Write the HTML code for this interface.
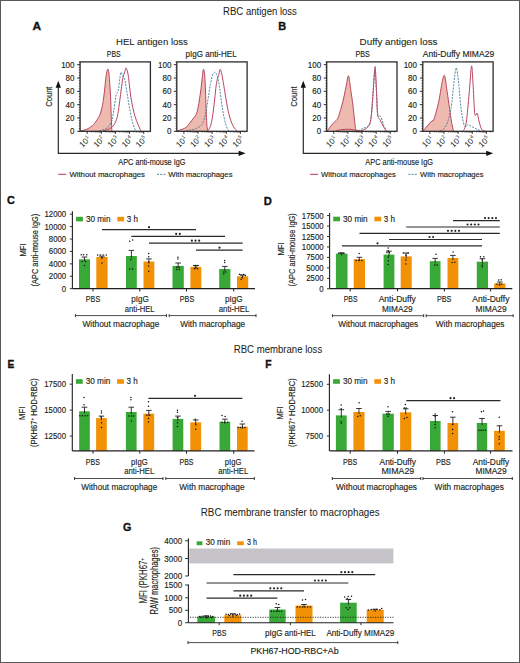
<!DOCTYPE html><html><head><meta charset="utf-8"><style>html,body{margin:0;padding:0;background:#fff;}svg{display:block;font-family:"Liberation Sans",sans-serif;}</style></head><body><svg width="520" height="663" viewBox="0 0 520 663" font-family="Liberation Sans, sans-serif" fill="#231f20">
<style>text{stroke:#231f20;stroke-width:0.15px;}</style>
<rect x="0" y="0" width="520" height="663" fill="#ffffff"/>
<text x="223.1" y="15" font-size="10" textLength="73.8" lengthAdjust="spacingAndGlyphs" style="stroke-width:0.05px">RBC antigen loss</text>
<text x="233.8" y="352.7" font-size="10" textLength="88.4" lengthAdjust="spacingAndGlyphs" style="stroke-width:0.05px">RBC membrane loss</text>
<text x="200.8" y="515.8" font-size="10" textLength="178.8" lengthAdjust="spacingAndGlyphs" style="stroke-width:0.05px">RBC membrane transfer to macrophages</text>
<text x="32.4" y="30.1" font-size="11.8" font-weight="bold" textLength="8.6" lengthAdjust="spacingAndGlyphs" fill="#111" style="stroke:#111;stroke-width:0.35px">A</text>
<text x="278.2" y="29.6" font-size="11.8" font-weight="bold" textLength="7.9" lengthAdjust="spacingAndGlyphs" fill="#111" style="stroke:#111;stroke-width:0.35px">B</text>
<text x="7" y="203.9" font-size="11.8" font-weight="bold" textLength="7.9" lengthAdjust="spacingAndGlyphs" fill="#111" style="stroke:#111;stroke-width:0.35px">C</text>
<text x="263.8" y="205.4" font-size="11.8" font-weight="bold" textLength="8.1" lengthAdjust="spacingAndGlyphs" fill="#111" style="stroke:#111;stroke-width:0.35px">D</text>
<text x="7.6" y="367.9" font-size="11.8" font-weight="bold" textLength="6.8" lengthAdjust="spacingAndGlyphs" fill="#111" style="stroke:#111;stroke-width:0.35px">E</text>
<text x="265.3" y="367.9" font-size="11.8" font-weight="bold" textLength="6.3" lengthAdjust="spacingAndGlyphs" fill="#111" style="stroke:#111;stroke-width:0.35px">F</text>
<text x="122.9" y="530.9" font-size="11.8" font-weight="bold" textLength="8.4" lengthAdjust="spacingAndGlyphs" fill="#111" style="stroke:#111;stroke-width:0.35px">G</text>
<text x="116" y="44.5" font-size="9.4" textLength="71.9" lengthAdjust="spacingAndGlyphs" style="stroke-width:0.08px">HEL antigen loss</text>
<text x="359.6" y="44.5" font-size="9.4" textLength="77.9" lengthAdjust="spacingAndGlyphs" style="stroke-width:0.08px">Duffy antigen loss</text>
<text x="106.8" y="56.7" font-size="8.8" textLength="13.8" lengthAdjust="spacingAndGlyphs">PBS</text>
<text x="185.5" y="56.7" font-size="8.8" textLength="51.2" lengthAdjust="spacingAndGlyphs">pIgG anti-HEL</text>
<text x="355.6" y="57" font-size="8.8" textLength="14.3" lengthAdjust="spacingAndGlyphs">PBS</text>
<text x="422.7" y="56.9" font-size="8.8" textLength="71.5" lengthAdjust="spacingAndGlyphs">Anti-Duffy MIMA29</text>
<text x="74.5" y="134.3" font-size="8.4" text-anchor="end" textLength="4.45" lengthAdjust="spacingAndGlyphs">0</text>
<line x1="77.1" y1="131.3" x2="80.1" y2="131.3" stroke="#231f20" stroke-width="0.9"/>
<text x="74.5" y="120.98" font-size="8.4" text-anchor="end" textLength="8.9" lengthAdjust="spacingAndGlyphs">20</text>
<line x1="77.1" y1="117.98" x2="80.1" y2="117.98" stroke="#231f20" stroke-width="0.9"/>
<text x="74.5" y="107.66" font-size="8.4" text-anchor="end" textLength="8.9" lengthAdjust="spacingAndGlyphs">40</text>
<line x1="77.1" y1="104.66" x2="80.1" y2="104.66" stroke="#231f20" stroke-width="0.9"/>
<text x="74.5" y="94.34" font-size="8.4" text-anchor="end" textLength="8.9" lengthAdjust="spacingAndGlyphs">60</text>
<line x1="77.1" y1="91.34" x2="80.1" y2="91.34" stroke="#231f20" stroke-width="0.9"/>
<text x="74.5" y="81.02" font-size="8.4" text-anchor="end" textLength="8.9" lengthAdjust="spacingAndGlyphs">80</text>
<line x1="77.1" y1="78.02" x2="80.1" y2="78.02" stroke="#231f20" stroke-width="0.9"/>
<text x="74.5" y="67.7" font-size="8.4" text-anchor="end" textLength="13.35" lengthAdjust="spacingAndGlyphs">100</text>
<line x1="77.1" y1="64.7" x2="80.1" y2="64.7" stroke="#231f20" stroke-width="0.9"/>
<line x1="78.8" y1="131.3" x2="80.1" y2="131.3" stroke="#231f20" stroke-width="0.7"/>
<line x1="78.8" y1="128.64" x2="80.1" y2="128.64" stroke="#231f20" stroke-width="0.7"/>
<line x1="78.8" y1="125.97" x2="80.1" y2="125.97" stroke="#231f20" stroke-width="0.7"/>
<line x1="78.8" y1="123.31" x2="80.1" y2="123.31" stroke="#231f20" stroke-width="0.7"/>
<line x1="78.8" y1="120.64" x2="80.1" y2="120.64" stroke="#231f20" stroke-width="0.7"/>
<line x1="78.8" y1="117.98" x2="80.1" y2="117.98" stroke="#231f20" stroke-width="0.7"/>
<line x1="78.8" y1="115.32" x2="80.1" y2="115.32" stroke="#231f20" stroke-width="0.7"/>
<line x1="78.8" y1="112.65" x2="80.1" y2="112.65" stroke="#231f20" stroke-width="0.7"/>
<line x1="78.8" y1="109.99" x2="80.1" y2="109.99" stroke="#231f20" stroke-width="0.7"/>
<line x1="78.8" y1="107.32" x2="80.1" y2="107.32" stroke="#231f20" stroke-width="0.7"/>
<line x1="78.8" y1="104.66" x2="80.1" y2="104.66" stroke="#231f20" stroke-width="0.7"/>
<line x1="78.8" y1="102" x2="80.1" y2="102" stroke="#231f20" stroke-width="0.7"/>
<line x1="78.8" y1="99.33" x2="80.1" y2="99.33" stroke="#231f20" stroke-width="0.7"/>
<line x1="78.8" y1="96.67" x2="80.1" y2="96.67" stroke="#231f20" stroke-width="0.7"/>
<line x1="78.8" y1="94" x2="80.1" y2="94" stroke="#231f20" stroke-width="0.7"/>
<line x1="78.8" y1="91.34" x2="80.1" y2="91.34" stroke="#231f20" stroke-width="0.7"/>
<line x1="78.8" y1="88.68" x2="80.1" y2="88.68" stroke="#231f20" stroke-width="0.7"/>
<line x1="78.8" y1="86.01" x2="80.1" y2="86.01" stroke="#231f20" stroke-width="0.7"/>
<line x1="78.8" y1="83.35" x2="80.1" y2="83.35" stroke="#231f20" stroke-width="0.7"/>
<line x1="78.8" y1="80.68" x2="80.1" y2="80.68" stroke="#231f20" stroke-width="0.7"/>
<line x1="78.8" y1="78.02" x2="80.1" y2="78.02" stroke="#231f20" stroke-width="0.7"/>
<line x1="78.8" y1="75.36" x2="80.1" y2="75.36" stroke="#231f20" stroke-width="0.7"/>
<line x1="78.8" y1="72.69" x2="80.1" y2="72.69" stroke="#231f20" stroke-width="0.7"/>
<line x1="78.8" y1="70.03" x2="80.1" y2="70.03" stroke="#231f20" stroke-width="0.7"/>
<line x1="78.8" y1="67.36" x2="80.1" y2="67.36" stroke="#231f20" stroke-width="0.7"/>
<line x1="78.8" y1="64.7" x2="80.1" y2="64.7" stroke="#231f20" stroke-width="0.7"/>
<line x1="78.8" y1="62.04" x2="80.1" y2="62.04" stroke="#231f20" stroke-width="0.7"/>
<line x1="87.2" y1="131.3" x2="87.2" y2="133.9" stroke="#231f20" stroke-width="0.9"/>
<line x1="91.45" y1="131.3" x2="91.45" y2="132.6" stroke="#231f20" stroke-width="0.6"/>
<line x1="93.94" y1="131.3" x2="93.94" y2="132.6" stroke="#231f20" stroke-width="0.6"/>
<line x1="95.71" y1="131.3" x2="95.71" y2="132.6" stroke="#231f20" stroke-width="0.6"/>
<line x1="97.08" y1="131.3" x2="97.08" y2="132.6" stroke="#231f20" stroke-width="0.6"/>
<line x1="98.2" y1="131.3" x2="98.2" y2="132.6" stroke="#231f20" stroke-width="0.6"/>
<line x1="99.14" y1="131.3" x2="99.14" y2="132.6" stroke="#231f20" stroke-width="0.6"/>
<line x1="99.96" y1="131.3" x2="99.96" y2="132.6" stroke="#231f20" stroke-width="0.6"/>
<line x1="100.68" y1="131.3" x2="100.68" y2="132.6" stroke="#231f20" stroke-width="0.6"/>
<line x1="101.33" y1="131.3" x2="101.33" y2="133.9" stroke="#231f20" stroke-width="0.9"/>
<line x1="105.58" y1="131.3" x2="105.58" y2="132.6" stroke="#231f20" stroke-width="0.6"/>
<line x1="108.07" y1="131.3" x2="108.07" y2="132.6" stroke="#231f20" stroke-width="0.6"/>
<line x1="109.84" y1="131.3" x2="109.84" y2="132.6" stroke="#231f20" stroke-width="0.6"/>
<line x1="111.21" y1="131.3" x2="111.21" y2="132.6" stroke="#231f20" stroke-width="0.6"/>
<line x1="112.33" y1="131.3" x2="112.33" y2="132.6" stroke="#231f20" stroke-width="0.6"/>
<line x1="113.27" y1="131.3" x2="113.27" y2="132.6" stroke="#231f20" stroke-width="0.6"/>
<line x1="114.09" y1="131.3" x2="114.09" y2="132.6" stroke="#231f20" stroke-width="0.6"/>
<line x1="114.81" y1="131.3" x2="114.81" y2="132.6" stroke="#231f20" stroke-width="0.6"/>
<line x1="115.46" y1="131.3" x2="115.46" y2="133.9" stroke="#231f20" stroke-width="0.9"/>
<line x1="119.71" y1="131.3" x2="119.71" y2="132.6" stroke="#231f20" stroke-width="0.6"/>
<line x1="122.2" y1="131.3" x2="122.2" y2="132.6" stroke="#231f20" stroke-width="0.6"/>
<line x1="123.97" y1="131.3" x2="123.97" y2="132.6" stroke="#231f20" stroke-width="0.6"/>
<line x1="125.34" y1="131.3" x2="125.34" y2="132.6" stroke="#231f20" stroke-width="0.6"/>
<line x1="126.46" y1="131.3" x2="126.46" y2="132.6" stroke="#231f20" stroke-width="0.6"/>
<line x1="127.4" y1="131.3" x2="127.4" y2="132.6" stroke="#231f20" stroke-width="0.6"/>
<line x1="128.22" y1="131.3" x2="128.22" y2="132.6" stroke="#231f20" stroke-width="0.6"/>
<line x1="128.94" y1="131.3" x2="128.94" y2="132.6" stroke="#231f20" stroke-width="0.6"/>
<line x1="129.59" y1="131.3" x2="129.59" y2="133.9" stroke="#231f20" stroke-width="0.9"/>
<line x1="133.84" y1="131.3" x2="133.84" y2="132.6" stroke="#231f20" stroke-width="0.6"/>
<line x1="136.33" y1="131.3" x2="136.33" y2="132.6" stroke="#231f20" stroke-width="0.6"/>
<line x1="138.1" y1="131.3" x2="138.1" y2="132.6" stroke="#231f20" stroke-width="0.6"/>
<line x1="139.47" y1="131.3" x2="139.47" y2="132.6" stroke="#231f20" stroke-width="0.6"/>
<line x1="140.59" y1="131.3" x2="140.59" y2="132.6" stroke="#231f20" stroke-width="0.6"/>
<line x1="141.53" y1="131.3" x2="141.53" y2="132.6" stroke="#231f20" stroke-width="0.6"/>
<line x1="142.35" y1="131.3" x2="142.35" y2="132.6" stroke="#231f20" stroke-width="0.6"/>
<line x1="143.07" y1="131.3" x2="143.07" y2="132.6" stroke="#231f20" stroke-width="0.6"/>
<line x1="143.72" y1="131.3" x2="143.72" y2="133.9" stroke="#231f20" stroke-width="0.9"/>
<line x1="147.97" y1="131.3" x2="147.97" y2="132.6" stroke="#231f20" stroke-width="0.6"/>
<g transform="translate(91.1 139.4) rotate(-45)"><text x="0" y="0" font-size="8.1" text-anchor="end" fill="#231f20" style="stroke-width:0px">10<tspan font-size="5" dx="0.3" dy="-3.4">1</tspan></text></g>
<g transform="translate(105.23 139.4) rotate(-45)"><text x="0" y="0" font-size="8.1" text-anchor="end" fill="#231f20" style="stroke-width:0px">10<tspan font-size="5" dx="0.3" dy="-3.4">2</tspan></text></g>
<g transform="translate(119.36 139.4) rotate(-45)"><text x="0" y="0" font-size="8.1" text-anchor="end" fill="#231f20" style="stroke-width:0px">10<tspan font-size="5" dx="0.3" dy="-3.4">3</tspan></text></g>
<g transform="translate(133.49 139.4) rotate(-45)"><text x="0" y="0" font-size="8.1" text-anchor="end" fill="#231f20" style="stroke-width:0px">10<tspan font-size="5" dx="0.3" dy="-3.4">4</tspan></text></g>
<g transform="translate(147.62 139.4) rotate(-45)"><text x="0" y="0" font-size="8.1" text-anchor="end" fill="#231f20" style="stroke-width:0px">10<tspan font-size="5" dx="0.3" dy="-3.4">5</tspan></text></g>
<path d="M80.6 130.8 C81.62 130.55 84.73 130.15 86.7 129.3 C88.67 128.45 90.97 126.87 92.4 125.7 C93.83 124.53 94.1 123.98 95.3 122.3 C96.5 120.62 98.52 117.93 99.6 115.6 C100.68 113.27 101.18 110.83 101.8 108.3 C102.42 105.77 102.82 103.63 103.3 100.4 C103.78 97.17 104.23 92.98 104.7 88.9 C105.17 84.82 105.62 79.15 106.1 75.9 C106.58 72.65 107.17 70.13 107.6 69.4 C108.03 68.67 108.35 69.22 108.7 71.5 C109.05 73.78 109.38 78.77 109.7 83.1 C110.02 87.43 110.35 92.22 110.6 97.5 C110.85 102.78 111.03 109.98 111.2 114.8 C111.37 119.62 111.48 123.73 111.6 126.4 C111.72 129.07 111.85 130.07 111.9 130.8 L111.9 131.3 Z" fill="#eeb9ae" stroke="none"/>
<path d="M80.6 130.8 C81.62 130.55 84.73 130.15 86.7 129.3 C88.67 128.45 90.97 126.87 92.4 125.7 C93.83 124.53 94.1 123.98 95.3 122.3 C96.5 120.62 98.52 117.93 99.6 115.6 C100.68 113.27 101.18 110.83 101.8 108.3 C102.42 105.77 102.82 103.63 103.3 100.4 C103.78 97.17 104.23 92.98 104.7 88.9 C105.17 84.82 105.62 79.15 106.1 75.9 C106.58 72.65 107.17 70.13 107.6 69.4 C108.03 68.67 108.35 69.22 108.7 71.5 C109.05 73.78 109.38 78.77 109.7 83.1 C110.02 87.43 110.35 92.22 110.6 97.5 C110.85 102.78 111.03 109.98 111.2 114.8 C111.37 119.62 111.48 123.73 111.6 126.4 C111.72 129.07 111.85 130.07 111.9 130.8" fill="none" stroke="#bb4560" stroke-width="1"/>
<path d="M99 130.8 C99.83 130.6 102.5 130.2 104 129.6 C105.5 129 106.87 128.3 108 127.2 C109.13 126.1 110.03 124.58 110.8 123 C111.57 121.42 111.93 120.98 112.6 117.7 C113.27 114.42 114.2 107.15 114.8 103.3 C115.4 99.45 115.75 96.4 116.2 94.6 C116.65 92.8 117.1 93.52 117.5 92.5 C117.9 91.48 118.22 90.78 118.6 88.5 C118.98 86.22 119.42 81.5 119.8 78.8 C120.18 76.1 120.42 72.78 120.9 72.3 C121.38 71.82 122.03 74.58 122.7 75.9 C123.37 77.22 124.17 77.32 124.9 80.2 C125.63 83.08 126.38 88.87 127.1 93.2 C127.82 97.53 128.37 101.63 129.2 106.2 C130.03 110.77 131.13 116.75 132.1 120.6 C133.07 124.45 134.28 127.6 135 129.3 C135.72 131 136.17 130.55 136.4 130.8" fill="none" stroke="#3d7c98" stroke-width="0.9" stroke-dasharray="2 1.2"/>
<path d="M103 130.8 C103.75 130.6 106.13 130.13 107.5 129.6 C108.87 129.07 109.98 128.62 111.2 127.6 C112.42 126.58 113.72 125.63 114.8 123.5 C115.88 121.37 116.87 118.65 117.7 114.8 C118.53 110.95 119.2 104.72 119.8 100.4 C120.4 96.08 120.82 92.5 121.3 88.9 C121.78 85.3 122.27 81.22 122.7 78.8 C123.13 76.38 123.53 75.62 123.9 74.4 C124.27 73.18 124.55 72.58 124.9 71.5 C125.25 70.42 125.52 67.65 126 67.9 C126.48 68.15 127.27 70.47 127.8 73 C128.33 75.53 128.72 79.25 129.2 83.1 C129.68 86.95 130.1 92.02 130.7 96.1 C131.3 100.18 132.08 104.23 132.8 107.6 C133.52 110.97 134.15 113.53 135 116.3 C135.85 119.07 136.93 121.78 137.9 124.2 C138.87 126.62 140.32 129.7 140.8 130.8" fill="none" stroke="#bb4560" stroke-width="1"/>
<rect x="80.1" y="61.9" width="70.3" height="69.4" fill="none" stroke="#2b2b2b" stroke-width="1.3"/>
<text x="171.4" y="134.3" font-size="8.4" text-anchor="end" textLength="4.45" lengthAdjust="spacingAndGlyphs">0</text>
<line x1="173.8" y1="131.3" x2="176.8" y2="131.3" stroke="#231f20" stroke-width="0.9"/>
<text x="171.4" y="120.98" font-size="8.4" text-anchor="end" textLength="8.9" lengthAdjust="spacingAndGlyphs">20</text>
<line x1="173.8" y1="117.98" x2="176.8" y2="117.98" stroke="#231f20" stroke-width="0.9"/>
<text x="171.4" y="107.66" font-size="8.4" text-anchor="end" textLength="8.9" lengthAdjust="spacingAndGlyphs">40</text>
<line x1="173.8" y1="104.66" x2="176.8" y2="104.66" stroke="#231f20" stroke-width="0.9"/>
<text x="171.4" y="94.34" font-size="8.4" text-anchor="end" textLength="8.9" lengthAdjust="spacingAndGlyphs">60</text>
<line x1="173.8" y1="91.34" x2="176.8" y2="91.34" stroke="#231f20" stroke-width="0.9"/>
<text x="171.4" y="81.02" font-size="8.4" text-anchor="end" textLength="8.9" lengthAdjust="spacingAndGlyphs">80</text>
<line x1="173.8" y1="78.02" x2="176.8" y2="78.02" stroke="#231f20" stroke-width="0.9"/>
<text x="171.4" y="67.7" font-size="8.4" text-anchor="end" textLength="13.35" lengthAdjust="spacingAndGlyphs">100</text>
<line x1="173.8" y1="64.7" x2="176.8" y2="64.7" stroke="#231f20" stroke-width="0.9"/>
<line x1="175.5" y1="131.3" x2="176.8" y2="131.3" stroke="#231f20" stroke-width="0.7"/>
<line x1="175.5" y1="128.64" x2="176.8" y2="128.64" stroke="#231f20" stroke-width="0.7"/>
<line x1="175.5" y1="125.97" x2="176.8" y2="125.97" stroke="#231f20" stroke-width="0.7"/>
<line x1="175.5" y1="123.31" x2="176.8" y2="123.31" stroke="#231f20" stroke-width="0.7"/>
<line x1="175.5" y1="120.64" x2="176.8" y2="120.64" stroke="#231f20" stroke-width="0.7"/>
<line x1="175.5" y1="117.98" x2="176.8" y2="117.98" stroke="#231f20" stroke-width="0.7"/>
<line x1="175.5" y1="115.32" x2="176.8" y2="115.32" stroke="#231f20" stroke-width="0.7"/>
<line x1="175.5" y1="112.65" x2="176.8" y2="112.65" stroke="#231f20" stroke-width="0.7"/>
<line x1="175.5" y1="109.99" x2="176.8" y2="109.99" stroke="#231f20" stroke-width="0.7"/>
<line x1="175.5" y1="107.32" x2="176.8" y2="107.32" stroke="#231f20" stroke-width="0.7"/>
<line x1="175.5" y1="104.66" x2="176.8" y2="104.66" stroke="#231f20" stroke-width="0.7"/>
<line x1="175.5" y1="102" x2="176.8" y2="102" stroke="#231f20" stroke-width="0.7"/>
<line x1="175.5" y1="99.33" x2="176.8" y2="99.33" stroke="#231f20" stroke-width="0.7"/>
<line x1="175.5" y1="96.67" x2="176.8" y2="96.67" stroke="#231f20" stroke-width="0.7"/>
<line x1="175.5" y1="94" x2="176.8" y2="94" stroke="#231f20" stroke-width="0.7"/>
<line x1="175.5" y1="91.34" x2="176.8" y2="91.34" stroke="#231f20" stroke-width="0.7"/>
<line x1="175.5" y1="88.68" x2="176.8" y2="88.68" stroke="#231f20" stroke-width="0.7"/>
<line x1="175.5" y1="86.01" x2="176.8" y2="86.01" stroke="#231f20" stroke-width="0.7"/>
<line x1="175.5" y1="83.35" x2="176.8" y2="83.35" stroke="#231f20" stroke-width="0.7"/>
<line x1="175.5" y1="80.68" x2="176.8" y2="80.68" stroke="#231f20" stroke-width="0.7"/>
<line x1="175.5" y1="78.02" x2="176.8" y2="78.02" stroke="#231f20" stroke-width="0.7"/>
<line x1="175.5" y1="75.36" x2="176.8" y2="75.36" stroke="#231f20" stroke-width="0.7"/>
<line x1="175.5" y1="72.69" x2="176.8" y2="72.69" stroke="#231f20" stroke-width="0.7"/>
<line x1="175.5" y1="70.03" x2="176.8" y2="70.03" stroke="#231f20" stroke-width="0.7"/>
<line x1="175.5" y1="67.36" x2="176.8" y2="67.36" stroke="#231f20" stroke-width="0.7"/>
<line x1="175.5" y1="64.7" x2="176.8" y2="64.7" stroke="#231f20" stroke-width="0.7"/>
<line x1="175.5" y1="62.04" x2="176.8" y2="62.04" stroke="#231f20" stroke-width="0.7"/>
<line x1="183.9" y1="131.3" x2="183.9" y2="133.9" stroke="#231f20" stroke-width="0.9"/>
<line x1="188.15" y1="131.3" x2="188.15" y2="132.6" stroke="#231f20" stroke-width="0.6"/>
<line x1="190.64" y1="131.3" x2="190.64" y2="132.6" stroke="#231f20" stroke-width="0.6"/>
<line x1="192.41" y1="131.3" x2="192.41" y2="132.6" stroke="#231f20" stroke-width="0.6"/>
<line x1="193.78" y1="131.3" x2="193.78" y2="132.6" stroke="#231f20" stroke-width="0.6"/>
<line x1="194.9" y1="131.3" x2="194.9" y2="132.6" stroke="#231f20" stroke-width="0.6"/>
<line x1="195.84" y1="131.3" x2="195.84" y2="132.6" stroke="#231f20" stroke-width="0.6"/>
<line x1="196.66" y1="131.3" x2="196.66" y2="132.6" stroke="#231f20" stroke-width="0.6"/>
<line x1="197.38" y1="131.3" x2="197.38" y2="132.6" stroke="#231f20" stroke-width="0.6"/>
<line x1="198.03" y1="131.3" x2="198.03" y2="133.9" stroke="#231f20" stroke-width="0.9"/>
<line x1="202.28" y1="131.3" x2="202.28" y2="132.6" stroke="#231f20" stroke-width="0.6"/>
<line x1="204.77" y1="131.3" x2="204.77" y2="132.6" stroke="#231f20" stroke-width="0.6"/>
<line x1="206.54" y1="131.3" x2="206.54" y2="132.6" stroke="#231f20" stroke-width="0.6"/>
<line x1="207.91" y1="131.3" x2="207.91" y2="132.6" stroke="#231f20" stroke-width="0.6"/>
<line x1="209.03" y1="131.3" x2="209.03" y2="132.6" stroke="#231f20" stroke-width="0.6"/>
<line x1="209.97" y1="131.3" x2="209.97" y2="132.6" stroke="#231f20" stroke-width="0.6"/>
<line x1="210.79" y1="131.3" x2="210.79" y2="132.6" stroke="#231f20" stroke-width="0.6"/>
<line x1="211.51" y1="131.3" x2="211.51" y2="132.6" stroke="#231f20" stroke-width="0.6"/>
<line x1="212.16" y1="131.3" x2="212.16" y2="133.9" stroke="#231f20" stroke-width="0.9"/>
<line x1="216.41" y1="131.3" x2="216.41" y2="132.6" stroke="#231f20" stroke-width="0.6"/>
<line x1="218.9" y1="131.3" x2="218.9" y2="132.6" stroke="#231f20" stroke-width="0.6"/>
<line x1="220.67" y1="131.3" x2="220.67" y2="132.6" stroke="#231f20" stroke-width="0.6"/>
<line x1="222.04" y1="131.3" x2="222.04" y2="132.6" stroke="#231f20" stroke-width="0.6"/>
<line x1="223.16" y1="131.3" x2="223.16" y2="132.6" stroke="#231f20" stroke-width="0.6"/>
<line x1="224.1" y1="131.3" x2="224.1" y2="132.6" stroke="#231f20" stroke-width="0.6"/>
<line x1="224.92" y1="131.3" x2="224.92" y2="132.6" stroke="#231f20" stroke-width="0.6"/>
<line x1="225.64" y1="131.3" x2="225.64" y2="132.6" stroke="#231f20" stroke-width="0.6"/>
<line x1="226.29" y1="131.3" x2="226.29" y2="133.9" stroke="#231f20" stroke-width="0.9"/>
<line x1="230.54" y1="131.3" x2="230.54" y2="132.6" stroke="#231f20" stroke-width="0.6"/>
<line x1="233.03" y1="131.3" x2="233.03" y2="132.6" stroke="#231f20" stroke-width="0.6"/>
<line x1="234.8" y1="131.3" x2="234.8" y2="132.6" stroke="#231f20" stroke-width="0.6"/>
<line x1="236.17" y1="131.3" x2="236.17" y2="132.6" stroke="#231f20" stroke-width="0.6"/>
<line x1="237.29" y1="131.3" x2="237.29" y2="132.6" stroke="#231f20" stroke-width="0.6"/>
<line x1="238.23" y1="131.3" x2="238.23" y2="132.6" stroke="#231f20" stroke-width="0.6"/>
<line x1="239.05" y1="131.3" x2="239.05" y2="132.6" stroke="#231f20" stroke-width="0.6"/>
<line x1="239.77" y1="131.3" x2="239.77" y2="132.6" stroke="#231f20" stroke-width="0.6"/>
<line x1="240.42" y1="131.3" x2="240.42" y2="133.9" stroke="#231f20" stroke-width="0.9"/>
<line x1="244.67" y1="131.3" x2="244.67" y2="132.6" stroke="#231f20" stroke-width="0.6"/>
<g transform="translate(187.8 139.4) rotate(-45)"><text x="0" y="0" font-size="8.1" text-anchor="end" fill="#231f20" style="stroke-width:0px">10<tspan font-size="5" dx="0.3" dy="-3.4">1</tspan></text></g>
<g transform="translate(201.93 139.4) rotate(-45)"><text x="0" y="0" font-size="8.1" text-anchor="end" fill="#231f20" style="stroke-width:0px">10<tspan font-size="5" dx="0.3" dy="-3.4">2</tspan></text></g>
<g transform="translate(216.06 139.4) rotate(-45)"><text x="0" y="0" font-size="8.1" text-anchor="end" fill="#231f20" style="stroke-width:0px">10<tspan font-size="5" dx="0.3" dy="-3.4">3</tspan></text></g>
<g transform="translate(230.19 139.4) rotate(-45)"><text x="0" y="0" font-size="8.1" text-anchor="end" fill="#231f20" style="stroke-width:0px">10<tspan font-size="5" dx="0.3" dy="-3.4">4</tspan></text></g>
<g transform="translate(244.32 139.4) rotate(-45)"><text x="0" y="0" font-size="8.1" text-anchor="end" fill="#231f20" style="stroke-width:0px">10<tspan font-size="5" dx="0.3" dy="-3.4">5</tspan></text></g>
<path d="M177.2 130.8 C178.03 130.55 180.65 129.92 182.2 129.3 C183.75 128.68 185.3 128.07 186.5 127.1 C187.7 126.13 188.55 124.58 189.4 123.5 C190.25 122.42 190.75 121.68 191.6 120.6 C192.45 119.52 193.67 118.2 194.5 117 C195.33 115.8 196 114.97 196.6 113.4 C197.2 111.83 197.62 110 198.1 107.6 C198.58 105.2 199.02 102.12 199.5 99 C199.98 95.88 200.57 92.27 201 88.9 C201.43 85.53 201.7 82.05 202.1 78.8 C202.5 75.55 202.98 70.13 203.4 69.4 C203.82 68.67 204.28 71.63 204.6 74.4 C204.92 77.17 205.08 81.18 205.3 86 C205.52 90.82 205.7 98.02 205.9 103.3 C206.1 108.58 206.32 113.85 206.5 117.7 C206.68 121.55 206.77 124.22 207 126.4 C207.23 128.58 207.75 130.07 207.9 130.8 L207.9 131.3 Z" fill="#eeb9ae" stroke="none"/>
<path d="M177.2 130.8 C178.03 130.55 180.65 129.92 182.2 129.3 C183.75 128.68 185.3 128.07 186.5 127.1 C187.7 126.13 188.55 124.58 189.4 123.5 C190.25 122.42 190.75 121.68 191.6 120.6 C192.45 119.52 193.67 118.2 194.5 117 C195.33 115.8 196 114.97 196.6 113.4 C197.2 111.83 197.62 110 198.1 107.6 C198.58 105.2 199.02 102.12 199.5 99 C199.98 95.88 200.57 92.27 201 88.9 C201.43 85.53 201.7 82.05 202.1 78.8 C202.5 75.55 202.98 70.13 203.4 69.4 C203.82 68.67 204.28 71.63 204.6 74.4 C204.92 77.17 205.08 81.18 205.3 86 C205.52 90.82 205.7 98.02 205.9 103.3 C206.1 108.58 206.32 113.85 206.5 117.7 C206.68 121.55 206.77 124.22 207 126.4 C207.23 128.58 207.75 130.07 207.9 130.8" fill="none" stroke="#bb4560" stroke-width="1"/>
<path d="M186 130.8 C186.83 130.67 189.23 130.42 191 130 C192.77 129.58 194.82 129.15 196.6 128.3 C198.38 127.45 200.37 126.67 201.7 124.9 C203.03 123.13 203.77 120.58 204.6 117.7 C205.43 114.82 206.05 111.2 206.7 107.6 C207.35 104 207.88 99.95 208.5 96.1 C209.12 92.25 209.78 87.87 210.4 84.5 C211.02 81.13 211.65 77.82 212.2 75.9 C212.75 73.98 213.22 73.6 213.7 73 C214.18 72.4 214.62 72.07 215.1 72.3 C215.58 72.53 216.12 73.32 216.6 74.4 C217.08 75.48 217.48 76.38 218 78.8 C218.52 81.22 219.12 85.07 219.7 88.9 C220.28 92.73 220.9 97.72 221.5 101.8 C222.1 105.88 222.63 109.78 223.3 113.4 C223.97 117.02 224.77 120.85 225.5 123.5 C226.23 126.15 227.1 128.08 227.7 129.3 C228.3 130.52 228.87 130.55 229.1 130.8" fill="none" stroke="#3d7c98" stroke-width="0.9" stroke-dasharray="2 1.2"/>
<path d="M207.5 130.8 C207.98 130.07 209.52 129.07 210.4 126.4 C211.28 123.73 212.08 119.37 212.8 114.8 C213.52 110.23 214.15 103.8 214.7 99 C215.25 94.2 215.62 89.5 216.1 86 C216.58 82.5 217.18 79.68 217.6 78 C218.02 76.32 218.2 77.33 218.6 75.9 C219 74.47 219.52 69.88 220 69.4 C220.48 68.92 221.02 71.2 221.5 73 C221.98 74.8 222.35 77.08 222.9 80.2 C223.45 83.32 224.17 87.85 224.8 91.7 C225.43 95.55 226.05 99.68 226.7 103.3 C227.35 106.92 227.93 110.28 228.7 113.4 C229.47 116.52 230.38 119.6 231.3 122 C232.22 124.4 233.25 126.33 234.2 127.8 C235.15 129.27 236.53 130.3 237 130.8" fill="none" stroke="#bb4560" stroke-width="1"/>
<rect x="176.8" y="61.9" width="70.3" height="69.4" fill="none" stroke="#2b2b2b" stroke-width="1.3"/>
<text x="321.2" y="134.3" font-size="8.4" text-anchor="end" textLength="4.45" lengthAdjust="spacingAndGlyphs">0</text>
<line x1="323.7" y1="131.3" x2="326.7" y2="131.3" stroke="#231f20" stroke-width="0.9"/>
<text x="321.2" y="120.98" font-size="8.4" text-anchor="end" textLength="8.9" lengthAdjust="spacingAndGlyphs">20</text>
<line x1="323.7" y1="117.98" x2="326.7" y2="117.98" stroke="#231f20" stroke-width="0.9"/>
<text x="321.2" y="107.66" font-size="8.4" text-anchor="end" textLength="8.9" lengthAdjust="spacingAndGlyphs">40</text>
<line x1="323.7" y1="104.66" x2="326.7" y2="104.66" stroke="#231f20" stroke-width="0.9"/>
<text x="321.2" y="94.34" font-size="8.4" text-anchor="end" textLength="8.9" lengthAdjust="spacingAndGlyphs">60</text>
<line x1="323.7" y1="91.34" x2="326.7" y2="91.34" stroke="#231f20" stroke-width="0.9"/>
<text x="321.2" y="81.02" font-size="8.4" text-anchor="end" textLength="8.9" lengthAdjust="spacingAndGlyphs">80</text>
<line x1="323.7" y1="78.02" x2="326.7" y2="78.02" stroke="#231f20" stroke-width="0.9"/>
<text x="321.2" y="67.7" font-size="8.4" text-anchor="end" textLength="13.35" lengthAdjust="spacingAndGlyphs">100</text>
<line x1="323.7" y1="64.7" x2="326.7" y2="64.7" stroke="#231f20" stroke-width="0.9"/>
<line x1="325.4" y1="131.3" x2="326.7" y2="131.3" stroke="#231f20" stroke-width="0.7"/>
<line x1="325.4" y1="128.64" x2="326.7" y2="128.64" stroke="#231f20" stroke-width="0.7"/>
<line x1="325.4" y1="125.97" x2="326.7" y2="125.97" stroke="#231f20" stroke-width="0.7"/>
<line x1="325.4" y1="123.31" x2="326.7" y2="123.31" stroke="#231f20" stroke-width="0.7"/>
<line x1="325.4" y1="120.64" x2="326.7" y2="120.64" stroke="#231f20" stroke-width="0.7"/>
<line x1="325.4" y1="117.98" x2="326.7" y2="117.98" stroke="#231f20" stroke-width="0.7"/>
<line x1="325.4" y1="115.32" x2="326.7" y2="115.32" stroke="#231f20" stroke-width="0.7"/>
<line x1="325.4" y1="112.65" x2="326.7" y2="112.65" stroke="#231f20" stroke-width="0.7"/>
<line x1="325.4" y1="109.99" x2="326.7" y2="109.99" stroke="#231f20" stroke-width="0.7"/>
<line x1="325.4" y1="107.32" x2="326.7" y2="107.32" stroke="#231f20" stroke-width="0.7"/>
<line x1="325.4" y1="104.66" x2="326.7" y2="104.66" stroke="#231f20" stroke-width="0.7"/>
<line x1="325.4" y1="102" x2="326.7" y2="102" stroke="#231f20" stroke-width="0.7"/>
<line x1="325.4" y1="99.33" x2="326.7" y2="99.33" stroke="#231f20" stroke-width="0.7"/>
<line x1="325.4" y1="96.67" x2="326.7" y2="96.67" stroke="#231f20" stroke-width="0.7"/>
<line x1="325.4" y1="94" x2="326.7" y2="94" stroke="#231f20" stroke-width="0.7"/>
<line x1="325.4" y1="91.34" x2="326.7" y2="91.34" stroke="#231f20" stroke-width="0.7"/>
<line x1="325.4" y1="88.68" x2="326.7" y2="88.68" stroke="#231f20" stroke-width="0.7"/>
<line x1="325.4" y1="86.01" x2="326.7" y2="86.01" stroke="#231f20" stroke-width="0.7"/>
<line x1="325.4" y1="83.35" x2="326.7" y2="83.35" stroke="#231f20" stroke-width="0.7"/>
<line x1="325.4" y1="80.68" x2="326.7" y2="80.68" stroke="#231f20" stroke-width="0.7"/>
<line x1="325.4" y1="78.02" x2="326.7" y2="78.02" stroke="#231f20" stroke-width="0.7"/>
<line x1="325.4" y1="75.36" x2="326.7" y2="75.36" stroke="#231f20" stroke-width="0.7"/>
<line x1="325.4" y1="72.69" x2="326.7" y2="72.69" stroke="#231f20" stroke-width="0.7"/>
<line x1="325.4" y1="70.03" x2="326.7" y2="70.03" stroke="#231f20" stroke-width="0.7"/>
<line x1="325.4" y1="67.36" x2="326.7" y2="67.36" stroke="#231f20" stroke-width="0.7"/>
<line x1="325.4" y1="64.7" x2="326.7" y2="64.7" stroke="#231f20" stroke-width="0.7"/>
<line x1="325.4" y1="62.04" x2="326.7" y2="62.04" stroke="#231f20" stroke-width="0.7"/>
<line x1="333.8" y1="131.3" x2="333.8" y2="133.9" stroke="#231f20" stroke-width="0.9"/>
<line x1="338.05" y1="131.3" x2="338.05" y2="132.6" stroke="#231f20" stroke-width="0.6"/>
<line x1="340.54" y1="131.3" x2="340.54" y2="132.6" stroke="#231f20" stroke-width="0.6"/>
<line x1="342.31" y1="131.3" x2="342.31" y2="132.6" stroke="#231f20" stroke-width="0.6"/>
<line x1="343.68" y1="131.3" x2="343.68" y2="132.6" stroke="#231f20" stroke-width="0.6"/>
<line x1="344.8" y1="131.3" x2="344.8" y2="132.6" stroke="#231f20" stroke-width="0.6"/>
<line x1="345.74" y1="131.3" x2="345.74" y2="132.6" stroke="#231f20" stroke-width="0.6"/>
<line x1="346.56" y1="131.3" x2="346.56" y2="132.6" stroke="#231f20" stroke-width="0.6"/>
<line x1="347.28" y1="131.3" x2="347.28" y2="132.6" stroke="#231f20" stroke-width="0.6"/>
<line x1="347.93" y1="131.3" x2="347.93" y2="133.9" stroke="#231f20" stroke-width="0.9"/>
<line x1="352.18" y1="131.3" x2="352.18" y2="132.6" stroke="#231f20" stroke-width="0.6"/>
<line x1="354.67" y1="131.3" x2="354.67" y2="132.6" stroke="#231f20" stroke-width="0.6"/>
<line x1="356.44" y1="131.3" x2="356.44" y2="132.6" stroke="#231f20" stroke-width="0.6"/>
<line x1="357.81" y1="131.3" x2="357.81" y2="132.6" stroke="#231f20" stroke-width="0.6"/>
<line x1="358.93" y1="131.3" x2="358.93" y2="132.6" stroke="#231f20" stroke-width="0.6"/>
<line x1="359.87" y1="131.3" x2="359.87" y2="132.6" stroke="#231f20" stroke-width="0.6"/>
<line x1="360.69" y1="131.3" x2="360.69" y2="132.6" stroke="#231f20" stroke-width="0.6"/>
<line x1="361.41" y1="131.3" x2="361.41" y2="132.6" stroke="#231f20" stroke-width="0.6"/>
<line x1="362.06" y1="131.3" x2="362.06" y2="133.9" stroke="#231f20" stroke-width="0.9"/>
<line x1="366.31" y1="131.3" x2="366.31" y2="132.6" stroke="#231f20" stroke-width="0.6"/>
<line x1="368.8" y1="131.3" x2="368.8" y2="132.6" stroke="#231f20" stroke-width="0.6"/>
<line x1="370.57" y1="131.3" x2="370.57" y2="132.6" stroke="#231f20" stroke-width="0.6"/>
<line x1="371.94" y1="131.3" x2="371.94" y2="132.6" stroke="#231f20" stroke-width="0.6"/>
<line x1="373.06" y1="131.3" x2="373.06" y2="132.6" stroke="#231f20" stroke-width="0.6"/>
<line x1="374" y1="131.3" x2="374" y2="132.6" stroke="#231f20" stroke-width="0.6"/>
<line x1="374.82" y1="131.3" x2="374.82" y2="132.6" stroke="#231f20" stroke-width="0.6"/>
<line x1="375.54" y1="131.3" x2="375.54" y2="132.6" stroke="#231f20" stroke-width="0.6"/>
<line x1="376.19" y1="131.3" x2="376.19" y2="133.9" stroke="#231f20" stroke-width="0.9"/>
<line x1="380.44" y1="131.3" x2="380.44" y2="132.6" stroke="#231f20" stroke-width="0.6"/>
<line x1="382.93" y1="131.3" x2="382.93" y2="132.6" stroke="#231f20" stroke-width="0.6"/>
<line x1="384.7" y1="131.3" x2="384.7" y2="132.6" stroke="#231f20" stroke-width="0.6"/>
<line x1="386.07" y1="131.3" x2="386.07" y2="132.6" stroke="#231f20" stroke-width="0.6"/>
<line x1="387.19" y1="131.3" x2="387.19" y2="132.6" stroke="#231f20" stroke-width="0.6"/>
<line x1="388.13" y1="131.3" x2="388.13" y2="132.6" stroke="#231f20" stroke-width="0.6"/>
<line x1="388.95" y1="131.3" x2="388.95" y2="132.6" stroke="#231f20" stroke-width="0.6"/>
<line x1="389.67" y1="131.3" x2="389.67" y2="132.6" stroke="#231f20" stroke-width="0.6"/>
<line x1="390.32" y1="131.3" x2="390.32" y2="133.9" stroke="#231f20" stroke-width="0.9"/>
<line x1="394.57" y1="131.3" x2="394.57" y2="132.6" stroke="#231f20" stroke-width="0.6"/>
<g transform="translate(337.7 139.4) rotate(-45)"><text x="0" y="0" font-size="8.1" text-anchor="end" fill="#231f20" style="stroke-width:0px">10<tspan font-size="5" dx="0.3" dy="-3.4">1</tspan></text></g>
<g transform="translate(351.83 139.4) rotate(-45)"><text x="0" y="0" font-size="8.1" text-anchor="end" fill="#231f20" style="stroke-width:0px">10<tspan font-size="5" dx="0.3" dy="-3.4">2</tspan></text></g>
<g transform="translate(365.96 139.4) rotate(-45)"><text x="0" y="0" font-size="8.1" text-anchor="end" fill="#231f20" style="stroke-width:0px">10<tspan font-size="5" dx="0.3" dy="-3.4">3</tspan></text></g>
<g transform="translate(380.09 139.4) rotate(-45)"><text x="0" y="0" font-size="8.1" text-anchor="end" fill="#231f20" style="stroke-width:0px">10<tspan font-size="5" dx="0.3" dy="-3.4">4</tspan></text></g>
<g transform="translate(394.22 139.4) rotate(-45)"><text x="0" y="0" font-size="8.1" text-anchor="end" fill="#231f20" style="stroke-width:0px">10<tspan font-size="5" dx="0.3" dy="-3.4">5</tspan></text></g>
<path d="M327.4 130.8 C328.22 129.7 330.83 125.93 332.3 124.2 C333.77 122.47 335.17 121.68 336.2 120.4 C337.23 119.12 337.37 119.73 338.5 116.5 C339.63 113.27 341.72 106.12 343 101 C344.28 95.88 345.28 90 346.2 85.8 C347.12 81.6 347.73 75.03 348.5 75.8 C349.27 76.57 350.05 85.4 350.8 90.4 C351.55 95.4 352.23 99.65 353 105.8 C353.77 111.95 354.73 123.13 355.4 127.3 C356.07 131.47 356.73 130.22 357 130.8 L357 131.3 Z" fill="#eeb9ae" stroke="none"/>
<path d="M327.4 130.8 C328.22 129.7 330.83 125.93 332.3 124.2 C333.77 122.47 335.17 121.68 336.2 120.4 C337.23 119.12 337.37 119.73 338.5 116.5 C339.63 113.27 341.72 106.12 343 101 C344.28 95.88 345.28 90 346.2 85.8 C347.12 81.6 347.73 75.03 348.5 75.8 C349.27 76.57 350.05 85.4 350.8 90.4 C351.55 95.4 352.23 99.65 353 105.8 C353.77 111.95 354.73 123.13 355.4 127.3 C356.07 131.47 356.73 130.22 357 130.8" fill="none" stroke="#bb4560" stroke-width="1"/>
<path d="M358 130.8 C359 130.33 362.33 128.8 364 128 C365.67 127.2 366.83 127.67 368 126 C369.17 124.33 370.17 123.17 371 118 C371.83 112.83 372.37 103 373 95 C373.63 87 374.22 70.5 374.8 70 C375.38 69.5 376.05 84.83 376.5 92 C376.95 99.17 377.08 109 377.5 113 C377.92 117 378.42 115.33 379 116 C379.58 116.67 380.17 115.33 381 117 C381.83 118.67 383.08 123.7 384 126 C384.92 128.3 386.08 130 386.5 130.8" fill="none" stroke="#3d7c98" stroke-width="0.9" stroke-dasharray="2 1.2"/>
<path d="M336 130.8 C337 130.6 339.67 129.85 342 129.6 C344.33 129.35 347.5 129.17 350 129.3 C352.5 129.43 355.08 130.18 357 130.4 C358.92 130.62 359.72 131.12 361.5 130.6 C363.28 130.08 366.15 129.13 367.7 127.3 C369.25 125.47 369.92 125.23 370.8 119.6 C371.68 113.97 372.37 101.6 373 93.5 C373.63 85.4 374.2 75.17 374.6 71 C375 66.83 375.07 64.75 375.4 68.5 C375.73 72.25 376.22 85.75 376.6 93.5 C376.98 101.25 377.13 110.65 377.7 115 C378.27 119.35 379.12 117.8 380 119.6 C380.88 121.4 382 123.93 383 125.8 C384 127.67 385.5 129.97 386 130.8" fill="none" stroke="#bb4560" stroke-width="1"/>
<rect x="326.7" y="61.9" width="70.3" height="69.4" fill="none" stroke="#2b2b2b" stroke-width="1.3"/>
<text x="417" y="134.3" font-size="8.4" text-anchor="end" textLength="4.45" lengthAdjust="spacingAndGlyphs">0</text>
<line x1="419.8" y1="131.3" x2="422.8" y2="131.3" stroke="#231f20" stroke-width="0.9"/>
<text x="417" y="120.98" font-size="8.4" text-anchor="end" textLength="8.9" lengthAdjust="spacingAndGlyphs">20</text>
<line x1="419.8" y1="117.98" x2="422.8" y2="117.98" stroke="#231f20" stroke-width="0.9"/>
<text x="417" y="107.66" font-size="8.4" text-anchor="end" textLength="8.9" lengthAdjust="spacingAndGlyphs">40</text>
<line x1="419.8" y1="104.66" x2="422.8" y2="104.66" stroke="#231f20" stroke-width="0.9"/>
<text x="417" y="94.34" font-size="8.4" text-anchor="end" textLength="8.9" lengthAdjust="spacingAndGlyphs">60</text>
<line x1="419.8" y1="91.34" x2="422.8" y2="91.34" stroke="#231f20" stroke-width="0.9"/>
<text x="417" y="81.02" font-size="8.4" text-anchor="end" textLength="8.9" lengthAdjust="spacingAndGlyphs">80</text>
<line x1="419.8" y1="78.02" x2="422.8" y2="78.02" stroke="#231f20" stroke-width="0.9"/>
<text x="417" y="67.7" font-size="8.4" text-anchor="end" textLength="13.35" lengthAdjust="spacingAndGlyphs">100</text>
<line x1="419.8" y1="64.7" x2="422.8" y2="64.7" stroke="#231f20" stroke-width="0.9"/>
<line x1="421.5" y1="131.3" x2="422.8" y2="131.3" stroke="#231f20" stroke-width="0.7"/>
<line x1="421.5" y1="128.64" x2="422.8" y2="128.64" stroke="#231f20" stroke-width="0.7"/>
<line x1="421.5" y1="125.97" x2="422.8" y2="125.97" stroke="#231f20" stroke-width="0.7"/>
<line x1="421.5" y1="123.31" x2="422.8" y2="123.31" stroke="#231f20" stroke-width="0.7"/>
<line x1="421.5" y1="120.64" x2="422.8" y2="120.64" stroke="#231f20" stroke-width="0.7"/>
<line x1="421.5" y1="117.98" x2="422.8" y2="117.98" stroke="#231f20" stroke-width="0.7"/>
<line x1="421.5" y1="115.32" x2="422.8" y2="115.32" stroke="#231f20" stroke-width="0.7"/>
<line x1="421.5" y1="112.65" x2="422.8" y2="112.65" stroke="#231f20" stroke-width="0.7"/>
<line x1="421.5" y1="109.99" x2="422.8" y2="109.99" stroke="#231f20" stroke-width="0.7"/>
<line x1="421.5" y1="107.32" x2="422.8" y2="107.32" stroke="#231f20" stroke-width="0.7"/>
<line x1="421.5" y1="104.66" x2="422.8" y2="104.66" stroke="#231f20" stroke-width="0.7"/>
<line x1="421.5" y1="102" x2="422.8" y2="102" stroke="#231f20" stroke-width="0.7"/>
<line x1="421.5" y1="99.33" x2="422.8" y2="99.33" stroke="#231f20" stroke-width="0.7"/>
<line x1="421.5" y1="96.67" x2="422.8" y2="96.67" stroke="#231f20" stroke-width="0.7"/>
<line x1="421.5" y1="94" x2="422.8" y2="94" stroke="#231f20" stroke-width="0.7"/>
<line x1="421.5" y1="91.34" x2="422.8" y2="91.34" stroke="#231f20" stroke-width="0.7"/>
<line x1="421.5" y1="88.68" x2="422.8" y2="88.68" stroke="#231f20" stroke-width="0.7"/>
<line x1="421.5" y1="86.01" x2="422.8" y2="86.01" stroke="#231f20" stroke-width="0.7"/>
<line x1="421.5" y1="83.35" x2="422.8" y2="83.35" stroke="#231f20" stroke-width="0.7"/>
<line x1="421.5" y1="80.68" x2="422.8" y2="80.68" stroke="#231f20" stroke-width="0.7"/>
<line x1="421.5" y1="78.02" x2="422.8" y2="78.02" stroke="#231f20" stroke-width="0.7"/>
<line x1="421.5" y1="75.36" x2="422.8" y2="75.36" stroke="#231f20" stroke-width="0.7"/>
<line x1="421.5" y1="72.69" x2="422.8" y2="72.69" stroke="#231f20" stroke-width="0.7"/>
<line x1="421.5" y1="70.03" x2="422.8" y2="70.03" stroke="#231f20" stroke-width="0.7"/>
<line x1="421.5" y1="67.36" x2="422.8" y2="67.36" stroke="#231f20" stroke-width="0.7"/>
<line x1="421.5" y1="64.7" x2="422.8" y2="64.7" stroke="#231f20" stroke-width="0.7"/>
<line x1="421.5" y1="62.04" x2="422.8" y2="62.04" stroke="#231f20" stroke-width="0.7"/>
<line x1="429.9" y1="131.3" x2="429.9" y2="133.9" stroke="#231f20" stroke-width="0.9"/>
<line x1="434.15" y1="131.3" x2="434.15" y2="132.6" stroke="#231f20" stroke-width="0.6"/>
<line x1="436.64" y1="131.3" x2="436.64" y2="132.6" stroke="#231f20" stroke-width="0.6"/>
<line x1="438.41" y1="131.3" x2="438.41" y2="132.6" stroke="#231f20" stroke-width="0.6"/>
<line x1="439.78" y1="131.3" x2="439.78" y2="132.6" stroke="#231f20" stroke-width="0.6"/>
<line x1="440.9" y1="131.3" x2="440.9" y2="132.6" stroke="#231f20" stroke-width="0.6"/>
<line x1="441.84" y1="131.3" x2="441.84" y2="132.6" stroke="#231f20" stroke-width="0.6"/>
<line x1="442.66" y1="131.3" x2="442.66" y2="132.6" stroke="#231f20" stroke-width="0.6"/>
<line x1="443.38" y1="131.3" x2="443.38" y2="132.6" stroke="#231f20" stroke-width="0.6"/>
<line x1="444.03" y1="131.3" x2="444.03" y2="133.9" stroke="#231f20" stroke-width="0.9"/>
<line x1="448.28" y1="131.3" x2="448.28" y2="132.6" stroke="#231f20" stroke-width="0.6"/>
<line x1="450.77" y1="131.3" x2="450.77" y2="132.6" stroke="#231f20" stroke-width="0.6"/>
<line x1="452.54" y1="131.3" x2="452.54" y2="132.6" stroke="#231f20" stroke-width="0.6"/>
<line x1="453.91" y1="131.3" x2="453.91" y2="132.6" stroke="#231f20" stroke-width="0.6"/>
<line x1="455.03" y1="131.3" x2="455.03" y2="132.6" stroke="#231f20" stroke-width="0.6"/>
<line x1="455.97" y1="131.3" x2="455.97" y2="132.6" stroke="#231f20" stroke-width="0.6"/>
<line x1="456.79" y1="131.3" x2="456.79" y2="132.6" stroke="#231f20" stroke-width="0.6"/>
<line x1="457.51" y1="131.3" x2="457.51" y2="132.6" stroke="#231f20" stroke-width="0.6"/>
<line x1="458.16" y1="131.3" x2="458.16" y2="133.9" stroke="#231f20" stroke-width="0.9"/>
<line x1="462.41" y1="131.3" x2="462.41" y2="132.6" stroke="#231f20" stroke-width="0.6"/>
<line x1="464.9" y1="131.3" x2="464.9" y2="132.6" stroke="#231f20" stroke-width="0.6"/>
<line x1="466.67" y1="131.3" x2="466.67" y2="132.6" stroke="#231f20" stroke-width="0.6"/>
<line x1="468.04" y1="131.3" x2="468.04" y2="132.6" stroke="#231f20" stroke-width="0.6"/>
<line x1="469.16" y1="131.3" x2="469.16" y2="132.6" stroke="#231f20" stroke-width="0.6"/>
<line x1="470.1" y1="131.3" x2="470.1" y2="132.6" stroke="#231f20" stroke-width="0.6"/>
<line x1="470.92" y1="131.3" x2="470.92" y2="132.6" stroke="#231f20" stroke-width="0.6"/>
<line x1="471.64" y1="131.3" x2="471.64" y2="132.6" stroke="#231f20" stroke-width="0.6"/>
<line x1="472.29" y1="131.3" x2="472.29" y2="133.9" stroke="#231f20" stroke-width="0.9"/>
<line x1="476.54" y1="131.3" x2="476.54" y2="132.6" stroke="#231f20" stroke-width="0.6"/>
<line x1="479.03" y1="131.3" x2="479.03" y2="132.6" stroke="#231f20" stroke-width="0.6"/>
<line x1="480.8" y1="131.3" x2="480.8" y2="132.6" stroke="#231f20" stroke-width="0.6"/>
<line x1="482.17" y1="131.3" x2="482.17" y2="132.6" stroke="#231f20" stroke-width="0.6"/>
<line x1="483.29" y1="131.3" x2="483.29" y2="132.6" stroke="#231f20" stroke-width="0.6"/>
<line x1="484.23" y1="131.3" x2="484.23" y2="132.6" stroke="#231f20" stroke-width="0.6"/>
<line x1="485.05" y1="131.3" x2="485.05" y2="132.6" stroke="#231f20" stroke-width="0.6"/>
<line x1="485.77" y1="131.3" x2="485.77" y2="132.6" stroke="#231f20" stroke-width="0.6"/>
<line x1="486.42" y1="131.3" x2="486.42" y2="133.9" stroke="#231f20" stroke-width="0.9"/>
<line x1="490.67" y1="131.3" x2="490.67" y2="132.6" stroke="#231f20" stroke-width="0.6"/>
<g transform="translate(433.8 139.4) rotate(-45)"><text x="0" y="0" font-size="8.1" text-anchor="end" fill="#231f20" style="stroke-width:0px">10<tspan font-size="5" dx="0.3" dy="-3.4">1</tspan></text></g>
<g transform="translate(447.93 139.4) rotate(-45)"><text x="0" y="0" font-size="8.1" text-anchor="end" fill="#231f20" style="stroke-width:0px">10<tspan font-size="5" dx="0.3" dy="-3.4">2</tspan></text></g>
<g transform="translate(462.06 139.4) rotate(-45)"><text x="0" y="0" font-size="8.1" text-anchor="end" fill="#231f20" style="stroke-width:0px">10<tspan font-size="5" dx="0.3" dy="-3.4">3</tspan></text></g>
<g transform="translate(476.19 139.4) rotate(-45)"><text x="0" y="0" font-size="8.1" text-anchor="end" fill="#231f20" style="stroke-width:0px">10<tspan font-size="5" dx="0.3" dy="-3.4">4</tspan></text></g>
<g transform="translate(490.32 139.4) rotate(-45)"><text x="0" y="0" font-size="8.1" text-anchor="end" fill="#231f20" style="stroke-width:0px">10<tspan font-size="5" dx="0.3" dy="-3.4">5</tspan></text></g>
<path d="M423.2 130.8 C424.62 129.17 429.95 122.8 431.7 121 C433.45 119.2 432.57 123.05 433.7 120 C434.83 116.95 437.07 109.12 438.5 102.7 C439.93 96.28 441.28 85.98 442.3 81.5 C443.32 77.02 443.82 74.22 444.6 75.8 C445.38 77.38 446.17 85.55 447 91 C447.83 96.45 448.85 103.33 449.6 108.5 C450.35 113.67 450.85 118.28 451.5 122 C452.15 125.72 453.17 129.33 453.5 130.8 L453.5 131.3 Z" fill="#eeb9ae" stroke="none"/>
<path d="M423.2 130.8 C424.62 129.17 429.95 122.8 431.7 121 C433.45 119.2 432.57 123.05 433.7 120 C434.83 116.95 437.07 109.12 438.5 102.7 C439.93 96.28 441.28 85.98 442.3 81.5 C443.32 77.02 443.82 74.22 444.6 75.8 C445.38 77.38 446.17 85.55 447 91 C447.83 96.45 448.85 103.33 449.6 108.5 C450.35 113.67 450.85 118.28 451.5 122 C452.15 125.72 453.17 129.33 453.5 130.8" fill="none" stroke="#bb4560" stroke-width="1"/>
<path d="M440.4 130.8 C441.33 129.97 444.23 129.52 446 125.8 C447.77 122.08 449.7 115.55 451 108.5 C452.3 101.45 452.92 90.25 453.8 83.5 C454.68 76.75 455.48 68 456.3 68 C457.12 68 457.92 76.75 458.7 83.5 C459.48 90.25 460.05 101.45 461 108.5 C461.95 115.55 463.18 123.08 464.4 125.8 C465.62 128.52 467.03 124.65 468.3 124.8 C469.57 124.95 470.55 125.95 472 126.7 C473.45 127.45 475.53 128.62 477 129.3 C478.47 129.98 480.17 130.55 480.8 130.8" fill="none" stroke="#3d7c98" stroke-width="0.9" stroke-dasharray="2 1.2"/>
<path d="M463.5 130.8 C463.97 129.33 465.35 128.3 466.3 122 C467.25 115.7 468.33 102.33 469.2 93 C470.07 83.67 470.87 67.58 471.5 66 C472.13 64.42 472.48 75.78 473 83.5 C473.52 91.22 474.1 107.05 474.6 112.3 C475.1 117.55 475.55 114.83 476 115 C476.45 115.17 476.77 112.13 477.3 113.3 C477.83 114.47 478.47 119.33 479.2 122 C479.93 124.67 480.8 127.83 481.7 129.3 C482.6 130.77 484.12 130.55 484.6 130.8" fill="none" stroke="#bb4560" stroke-width="1"/>
<rect x="422.8" y="61.9" width="70.3" height="69.4" fill="none" stroke="#2b2b2b" stroke-width="1.3"/>
<path d="M58.3 86 L58.3 153.3 L241.6 153.3" fill="none" stroke="#2b2b2b" stroke-width="1.2"/>
<path d="M58.3 80.8 L55.7 87.8 L60.9 87.8 Z" fill="#111"/>
<path d="M245.6 153.3 L238.6 150.7 L238.6 155.9 Z" fill="#111"/>
<text x="52.4" y="106.8" font-size="9.6" textLength="20.3" lengthAdjust="spacingAndGlyphs" transform="rotate(-90 52.4 106.8)">Count</text>
<text x="118.3" y="164.8" font-size="9.4" textLength="67.2" lengthAdjust="spacingAndGlyphs">APC anti-mouse IgG</text>
<path d="M303.3 86 L303.3 153.3 L489.2 153.3" fill="none" stroke="#2b2b2b" stroke-width="1.2"/>
<path d="M303.3 80.8 L300.7 87.8 L305.9 87.8 Z" fill="#111"/>
<path d="M493.2 153.3 L486.2 150.7 L486.2 155.9 Z" fill="#111"/>
<text x="297" y="106.8" font-size="9.6" textLength="20.3" lengthAdjust="spacingAndGlyphs" transform="rotate(-90 297 106.8)">Count</text>
<text x="365.3" y="164.8" font-size="9.4" textLength="67.7" lengthAdjust="spacingAndGlyphs">APC anti-mouse IgG</text>
<line x1="58.2" y1="174.3" x2="66.2" y2="174.3" stroke="#bb4560" stroke-width="1.1"/>
<text x="69.4" y="176.6" font-size="8" textLength="75.6" lengthAdjust="spacingAndGlyphs">Without macrophages</text>
<line x1="157" y1="174.3" x2="165.4" y2="174.3" stroke="#3d7c98" stroke-width="0.9" stroke-dasharray="2 1.2"/>
<text x="168.3" y="176.6" font-size="8" textLength="64.2" lengthAdjust="spacingAndGlyphs">With macrophages</text>
<line x1="310" y1="174.3" x2="318" y2="174.3" stroke="#bb4560" stroke-width="1.1"/>
<text x="321" y="176.6" font-size="8" textLength="74.8" lengthAdjust="spacingAndGlyphs">Without macrophages</text>
<line x1="408.4" y1="174.3" x2="416.8" y2="174.3" stroke="#3d7c98" stroke-width="0.9" stroke-dasharray="2 1.2"/>
<text x="420" y="176.6" font-size="8" textLength="63.7" lengthAdjust="spacingAndGlyphs">With macrophages</text>
<line x1="72.4" y1="211.3" x2="72.4" y2="288.6" stroke="#231f20" stroke-width="1.1"/>
<line x1="69.8" y1="288.7" x2="72.4" y2="288.7" stroke="#231f20" stroke-width="0.9"/>
<text x="66.2" y="291.7" font-size="8.7" text-anchor="end" textLength="4.35" lengthAdjust="spacingAndGlyphs">0</text>
<line x1="69.8" y1="276.28" x2="72.4" y2="276.28" stroke="#231f20" stroke-width="0.9"/>
<text x="66.2" y="279.28" font-size="8.7" text-anchor="end" textLength="17.4" lengthAdjust="spacingAndGlyphs">2000</text>
<line x1="69.8" y1="263.86" x2="72.4" y2="263.86" stroke="#231f20" stroke-width="0.9"/>
<text x="66.2" y="266.86" font-size="8.7" text-anchor="end" textLength="17.4" lengthAdjust="spacingAndGlyphs">4000</text>
<line x1="69.8" y1="251.44" x2="72.4" y2="251.44" stroke="#231f20" stroke-width="0.9"/>
<text x="66.2" y="254.44" font-size="8.7" text-anchor="end" textLength="17.4" lengthAdjust="spacingAndGlyphs">6000</text>
<line x1="69.8" y1="239.02" x2="72.4" y2="239.02" stroke="#231f20" stroke-width="0.9"/>
<text x="66.2" y="242.02" font-size="8.7" text-anchor="end" textLength="17.4" lengthAdjust="spacingAndGlyphs">8000</text>
<line x1="69.8" y1="226.6" x2="72.4" y2="226.6" stroke="#231f20" stroke-width="0.9"/>
<text x="66.2" y="229.6" font-size="8.7" text-anchor="end" textLength="21.75" lengthAdjust="spacingAndGlyphs">10000</text>
<line x1="69.8" y1="214.18" x2="72.4" y2="214.18" stroke="#231f20" stroke-width="0.9"/>
<text x="66.2" y="217.18" font-size="8.7" text-anchor="end" textLength="21.75" lengthAdjust="spacingAndGlyphs">12000</text>
<text x="26" y="250" font-size="9.8" text-anchor="middle" textLength="13" lengthAdjust="spacingAndGlyphs" transform="rotate(-90 26 250)">MFI</text>
<text x="37.8" y="250.1" font-size="9.8" text-anchor="middle" textLength="72.6" lengthAdjust="spacingAndGlyphs" transform="rotate(-90 37.8 250.1)">(APC anti-mouse IgG)</text>
<rect x="76.1" y="216.8" width="6.8" height="4.6" fill="#38a936"/>
<text x="85.9" y="221.8" font-size="8.5" textLength="24.6" lengthAdjust="spacingAndGlyphs">30 min</text>
<rect x="117.3" y="216.8" width="6.8" height="4.6" fill="#f29106"/>
<text x="126.7" y="221.8" font-size="8.5" textLength="11.2" lengthAdjust="spacingAndGlyphs">3 h</text>
<rect x="79" y="259.3" width="11" height="29.3" fill="#38a936"/>
<line x1="84.5" y1="257" x2="84.5" y2="261.3" stroke="#231f20" stroke-width="0.9"/>
<line x1="81.7" y1="257" x2="87.3" y2="257" stroke="#231f20" stroke-width="0.9"/>
<circle cx="81.2" cy="254.7" r="0.75" fill="#111"/>
<circle cx="83.5" cy="254.7" r="0.75" fill="#111"/>
<circle cx="86.8" cy="254.7" r="0.75" fill="#111"/>
<circle cx="82.1" cy="261.5" r="0.75" fill="#111"/>
<circle cx="85.6" cy="261.5" r="0.75" fill="#111"/>
<circle cx="84.4" cy="265.5" r="0.75" fill="#111"/>
<rect x="96.3" y="257" width="11.3" height="31.6" fill="#f29106"/>
<line x1="101.95" y1="256.2" x2="101.95" y2="259" stroke="#231f20" stroke-width="0.9"/>
<line x1="99.15" y1="256.2" x2="104.75" y2="256.2" stroke="#231f20" stroke-width="0.9"/>
<circle cx="97.65" cy="255" r="0.75" fill="#111"/>
<circle cx="100.25" cy="255" r="0.75" fill="#111"/>
<circle cx="103.15" cy="255" r="0.75" fill="#111"/>
<circle cx="106.25" cy="255" r="0.75" fill="#111"/>
<circle cx="101.95" cy="257.7" r="0.75" fill="#111"/>
<circle cx="101.95" cy="262.9" r="0.75" fill="#111"/>
<rect x="126" y="256" width="10.8" height="32.6" fill="#38a936"/>
<line x1="131.4" y1="250.4" x2="131.4" y2="258" stroke="#231f20" stroke-width="0.9"/>
<line x1="128.6" y1="250.4" x2="134.2" y2="250.4" stroke="#231f20" stroke-width="0.9"/>
<circle cx="129.7" cy="241.2" r="0.75" fill="#111"/>
<circle cx="132.6" cy="240" r="0.75" fill="#111"/>
<circle cx="130.9" cy="259.4" r="0.75" fill="#111"/>
<circle cx="129.7" cy="268.9" r="0.75" fill="#111"/>
<circle cx="132.6" cy="268.9" r="0.75" fill="#111"/>
<rect x="143.5" y="261.5" width="10.8" height="27.1" fill="#f29106"/>
<line x1="148.9" y1="258.9" x2="148.9" y2="263.5" stroke="#231f20" stroke-width="0.9"/>
<line x1="146.1" y1="258.9" x2="151.7" y2="258.9" stroke="#231f20" stroke-width="0.9"/>
<circle cx="148.7" cy="253.4" r="0.75" fill="#111"/>
<circle cx="148.7" cy="256.8" r="0.75" fill="#111"/>
<circle cx="148.7" cy="262" r="0.75" fill="#111"/>
<circle cx="148.7" cy="266" r="0.75" fill="#111"/>
<circle cx="148.7" cy="271.2" r="0.75" fill="#111"/>
<rect x="172.5" y="265.9" width="11.3" height="22.7" fill="#38a936"/>
<line x1="178.15" y1="263" x2="178.15" y2="267.9" stroke="#231f20" stroke-width="0.9"/>
<line x1="175.35" y1="263" x2="180.95" y2="263" stroke="#231f20" stroke-width="0.9"/>
<circle cx="177.95" cy="257.3" r="0.75" fill="#111"/>
<circle cx="177.95" cy="259" r="0.75" fill="#111"/>
<circle cx="176.75" cy="267.3" r="0.75" fill="#111"/>
<circle cx="179.25" cy="267.3" r="0.75" fill="#111"/>
<circle cx="176.75" cy="269.4" r="0.75" fill="#111"/>
<circle cx="179.25" cy="269.4" r="0.75" fill="#111"/>
<rect x="190.4" y="266.9" width="10.9" height="21.7" fill="#f29106"/>
<line x1="195.85" y1="265.6" x2="195.85" y2="268.9" stroke="#231f20" stroke-width="0.9"/>
<line x1="193.05" y1="265.6" x2="198.65" y2="265.6" stroke="#231f20" stroke-width="0.9"/>
<circle cx="194.05" cy="265.6" r="0.75" fill="#111"/>
<circle cx="195.75" cy="265.4" r="0.75" fill="#111"/>
<circle cx="197.85" cy="265.6" r="0.75" fill="#111"/>
<circle cx="195.75" cy="267.3" r="0.75" fill="#111"/>
<circle cx="194.35" cy="268.7" r="0.75" fill="#111"/>
<circle cx="197.45" cy="268.7" r="0.75" fill="#111"/>
<rect x="219.2" y="269" width="11.2" height="19.6" fill="#38a936"/>
<line x1="224.8" y1="266.4" x2="224.8" y2="271" stroke="#231f20" stroke-width="0.9"/>
<line x1="222" y1="266.4" x2="227.6" y2="266.4" stroke="#231f20" stroke-width="0.9"/>
<circle cx="224.7" cy="260.4" r="0.75" fill="#111"/>
<circle cx="224.7" cy="262.5" r="0.75" fill="#111"/>
<circle cx="223.8" cy="272.1" r="0.75" fill="#111"/>
<circle cx="225.9" cy="272.1" r="0.75" fill="#111"/>
<circle cx="223.8" cy="274" r="0.75" fill="#111"/>
<rect x="237" y="276.3" width="11.2" height="12.3" fill="#f29106"/>
<line x1="242.6" y1="275" x2="242.6" y2="278.3" stroke="#231f20" stroke-width="0.9"/>
<line x1="239.8" y1="275" x2="245.4" y2="275" stroke="#231f20" stroke-width="0.9"/>
<circle cx="239.4" cy="274.2" r="0.75" fill="#111"/>
<circle cx="241.1" cy="275" r="0.75" fill="#111"/>
<circle cx="243.6" cy="274.5" r="0.75" fill="#111"/>
<circle cx="245.4" cy="275.4" r="0.75" fill="#111"/>
<circle cx="242" cy="277.7" r="0.75" fill="#111"/>
<circle cx="241.1" cy="279.4" r="0.75" fill="#111"/>
<line x1="72.4" y1="288.6" x2="255" y2="288.6" stroke="#231f20" stroke-width="1.1"/>
<line x1="93" y1="288.6" x2="93" y2="291.4" stroke="#231f20" stroke-width="1"/>
<line x1="139.8" y1="288.6" x2="139.8" y2="291.4" stroke="#231f20" stroke-width="1"/>
<line x1="186.5" y1="288.6" x2="186.5" y2="291.4" stroke="#231f20" stroke-width="1"/>
<line x1="233.7" y1="288.6" x2="233.7" y2="291.4" stroke="#231f20" stroke-width="1"/>
<line x1="102" y1="229.7" x2="196" y2="229.7" stroke="#2a2a2a" stroke-width="1.2"/>
<circle cx="149" cy="227.2" r="1.08" fill="#222"/>
<line x1="131.3" y1="236.4" x2="225" y2="236.4" stroke="#2a2a2a" stroke-width="1.2"/>
<circle cx="176.18" cy="233.9" r="1.08" fill="#222"/>
<circle cx="179.82" cy="233.9" r="1.08" fill="#222"/>
<line x1="149" y1="243.2" x2="242.6" y2="243.2" stroke="#2a2a2a" stroke-width="1.2"/>
<circle cx="191.85" cy="240.7" r="1.08" fill="#222"/>
<circle cx="195.5" cy="240.7" r="1.08" fill="#222"/>
<circle cx="199.15" cy="240.7" r="1.08" fill="#222"/>
<line x1="196" y1="250.2" x2="242.6" y2="250.2" stroke="#2a2a2a" stroke-width="1.2"/>
<circle cx="219.5" cy="247.7" r="1.08" fill="#222"/>
<text x="85.8" y="302" font-size="8.5" textLength="14.4" lengthAdjust="spacingAndGlyphs">PBS</text>
<text x="131.2" y="302" font-size="8.5" textLength="17.6" lengthAdjust="spacingAndGlyphs">pIgG</text>
<text x="124.8" y="311.6" font-size="8.5" textLength="29.8" lengthAdjust="spacingAndGlyphs">anti-HEL</text>
<text x="179.8" y="302" font-size="8.5" textLength="14.4" lengthAdjust="spacingAndGlyphs">PBS</text>
<text x="225" y="302" font-size="8.5" textLength="17.6" lengthAdjust="spacingAndGlyphs">pIgG</text>
<text x="218.7" y="311.6" font-size="8.5" textLength="30.7" lengthAdjust="spacingAndGlyphs">anti-HEL</text>
<line x1="75.4" y1="315.6" x2="166.5" y2="315.6" stroke="#231f20" stroke-width="0.8"/>
<line x1="75.4" y1="314.1" x2="75.4" y2="317.1" stroke="#231f20" stroke-width="0.9"/>
<line x1="166.5" y1="314.1" x2="166.5" y2="317.1" stroke="#231f20" stroke-width="0.9"/>
<line x1="169.2" y1="315.6" x2="256" y2="315.6" stroke="#231f20" stroke-width="0.8"/>
<line x1="169.2" y1="314.1" x2="169.2" y2="317.1" stroke="#231f20" stroke-width="0.9"/>
<line x1="256" y1="314.1" x2="256" y2="317.1" stroke="#231f20" stroke-width="0.9"/>
<text x="82.5" y="327.3" font-size="8.5" textLength="76.9" lengthAdjust="spacingAndGlyphs">Without macrophage</text>
<text x="180.2" y="327.3" font-size="8.5" textLength="65" lengthAdjust="spacingAndGlyphs">With macrophage</text>
<line x1="329.6" y1="212.9" x2="329.6" y2="288.6" stroke="#231f20" stroke-width="1.1"/>
<line x1="327" y1="288.8" x2="329.6" y2="288.8" stroke="#231f20" stroke-width="0.9"/>
<text x="323.6" y="291.8" font-size="8.7" text-anchor="end" textLength="4.35" lengthAdjust="spacingAndGlyphs">0</text>
<line x1="327" y1="278.34" x2="329.6" y2="278.34" stroke="#231f20" stroke-width="0.9"/>
<text x="323.6" y="281.34" font-size="8.7" text-anchor="end" textLength="17.4" lengthAdjust="spacingAndGlyphs">2500</text>
<line x1="327" y1="267.88" x2="329.6" y2="267.88" stroke="#231f20" stroke-width="0.9"/>
<text x="323.6" y="270.88" font-size="8.7" text-anchor="end" textLength="17.4" lengthAdjust="spacingAndGlyphs">5000</text>
<line x1="327" y1="257.42" x2="329.6" y2="257.42" stroke="#231f20" stroke-width="0.9"/>
<text x="323.6" y="260.42" font-size="8.7" text-anchor="end" textLength="17.4" lengthAdjust="spacingAndGlyphs">7500</text>
<line x1="327" y1="246.96" x2="329.6" y2="246.96" stroke="#231f20" stroke-width="0.9"/>
<text x="323.6" y="249.96" font-size="8.7" text-anchor="end" textLength="21.75" lengthAdjust="spacingAndGlyphs">10000</text>
<line x1="327" y1="236.5" x2="329.6" y2="236.5" stroke="#231f20" stroke-width="0.9"/>
<text x="323.6" y="239.5" font-size="8.7" text-anchor="end" textLength="21.75" lengthAdjust="spacingAndGlyphs">12500</text>
<line x1="327" y1="226.04" x2="329.6" y2="226.04" stroke="#231f20" stroke-width="0.9"/>
<text x="323.6" y="229.04" font-size="8.7" text-anchor="end" textLength="21.75" lengthAdjust="spacingAndGlyphs">15000</text>
<line x1="327" y1="215.58" x2="329.6" y2="215.58" stroke="#231f20" stroke-width="0.9"/>
<text x="323.6" y="218.58" font-size="8.7" text-anchor="end" textLength="21.75" lengthAdjust="spacingAndGlyphs">17500</text>
<text x="283.7" y="249.1" font-size="9.8" text-anchor="middle" textLength="13" lengthAdjust="spacingAndGlyphs" transform="rotate(-90 283.7 249.1)">MFI</text>
<text x="295.4" y="249.8" font-size="9.8" text-anchor="middle" textLength="73.3" lengthAdjust="spacingAndGlyphs" transform="rotate(-90 295.4 249.8)">(APC anti-mouse IgG)</text>
<rect x="333.2" y="216.7" width="6.8" height="4.6" fill="#38a936"/>
<text x="343" y="221.7" font-size="8.5" textLength="24.6" lengthAdjust="spacingAndGlyphs">30 min</text>
<rect x="374.4" y="216.7" width="6.8" height="4.6" fill="#f29106"/>
<text x="383.8" y="221.7" font-size="8.5" textLength="11.2" lengthAdjust="spacingAndGlyphs">3 h</text>
<rect x="335.9" y="253.6" width="11.6" height="35" fill="#38a936"/>
<line x1="341.7" y1="253" x2="341.7" y2="255.6" stroke="#231f20" stroke-width="0.9"/>
<line x1="338.9" y1="253" x2="344.5" y2="253" stroke="#231f20" stroke-width="0.9"/>
<circle cx="338.6" cy="253.2" r="0.75" fill="#111"/>
<circle cx="340.3" cy="252.9" r="0.75" fill="#111"/>
<circle cx="342" cy="253" r="0.75" fill="#111"/>
<circle cx="343.8" cy="253.3" r="0.75" fill="#111"/>
<rect x="353.7" y="259.2" width="11.3" height="29.4" fill="#f29106"/>
<line x1="359.35" y1="257.3" x2="359.35" y2="261.2" stroke="#231f20" stroke-width="0.9"/>
<line x1="356.55" y1="257.3" x2="362.15" y2="257.3" stroke="#231f20" stroke-width="0.9"/>
<circle cx="359.15" cy="253.5" r="0.75" fill="#111"/>
<circle cx="356.15" cy="260.4" r="0.75" fill="#111"/>
<circle cx="358.75" cy="260.4" r="0.75" fill="#111"/>
<circle cx="361.75" cy="260.4" r="0.75" fill="#111"/>
<rect x="383.6" y="254.6" width="10.8" height="34" fill="#38a936"/>
<line x1="389" y1="251.2" x2="389" y2="256.6" stroke="#231f20" stroke-width="0.9"/>
<line x1="386.2" y1="251.2" x2="391.8" y2="251.2" stroke="#231f20" stroke-width="0.9"/>
<circle cx="388.2" cy="248.1" r="0.75" fill="#111"/>
<circle cx="388.2" cy="250.7" r="0.75" fill="#111"/>
<circle cx="387" cy="252.5" r="0.75" fill="#111"/>
<circle cx="389.4" cy="252.5" r="0.75" fill="#111"/>
<circle cx="388.2" cy="257.3" r="0.75" fill="#111"/>
<circle cx="388.2" cy="260.8" r="0.75" fill="#111"/>
<circle cx="388.2" cy="264.6" r="0.75" fill="#111"/>
<rect x="400.7" y="256.4" width="11" height="32.2" fill="#f29106"/>
<line x1="406.2" y1="253" x2="406.2" y2="258.4" stroke="#231f20" stroke-width="0.9"/>
<line x1="403.4" y1="253" x2="409" y2="253" stroke="#231f20" stroke-width="0.9"/>
<circle cx="403.3" cy="253" r="0.75" fill="#111"/>
<circle cx="408.1" cy="253" r="0.75" fill="#111"/>
<circle cx="405.9" cy="255.2" r="0.75" fill="#111"/>
<circle cx="405.9" cy="259.9" r="0.75" fill="#111"/>
<circle cx="405.9" cy="263.9" r="0.75" fill="#111"/>
<rect x="429.8" y="261.2" width="10.7" height="27.4" fill="#38a936"/>
<line x1="435.15" y1="258.4" x2="435.15" y2="263.2" stroke="#231f20" stroke-width="0.9"/>
<line x1="432.35" y1="258.4" x2="437.95" y2="258.4" stroke="#231f20" stroke-width="0.9"/>
<circle cx="435.95" cy="254.2" r="0.75" fill="#111"/>
<circle cx="434.75" cy="265.1" r="0.75" fill="#111"/>
<circle cx="437.05" cy="265.1" r="0.75" fill="#111"/>
<rect x="447.5" y="258" width="10.8" height="30.6" fill="#f29106"/>
<line x1="452.9" y1="255.4" x2="452.9" y2="260" stroke="#231f20" stroke-width="0.9"/>
<line x1="450.1" y1="255.4" x2="455.7" y2="255.4" stroke="#231f20" stroke-width="0.9"/>
<circle cx="453.1" cy="252" r="0.75" fill="#111"/>
<circle cx="452.1" cy="262.6" r="0.75" fill="#111"/>
<circle cx="454.8" cy="262.2" r="0.75" fill="#111"/>
<rect x="476.8" y="261.7" width="11.2" height="26.9" fill="#38a936"/>
<line x1="482.4" y1="258.7" x2="482.4" y2="263.7" stroke="#231f20" stroke-width="0.9"/>
<line x1="479.6" y1="258.7" x2="485.2" y2="258.7" stroke="#231f20" stroke-width="0.9"/>
<circle cx="480.5" cy="256.7" r="0.75" fill="#111"/>
<circle cx="483.9" cy="256.7" r="0.75" fill="#111"/>
<circle cx="482.2" cy="259.7" r="0.75" fill="#111"/>
<circle cx="482.2" cy="265.1" r="0.75" fill="#111"/>
<circle cx="482.2" cy="266.8" r="0.75" fill="#111"/>
<rect x="494.2" y="283.4" width="11.2" height="5.2" fill="#f29106"/>
<line x1="499.8" y1="282" x2="499.8" y2="285.4" stroke="#231f20" stroke-width="0.9"/>
<line x1="497" y1="282" x2="502.6" y2="282" stroke="#231f20" stroke-width="0.9"/>
<circle cx="498.6" cy="280.1" r="0.75" fill="#111"/>
<circle cx="501.1" cy="279.8" r="0.75" fill="#111"/>
<circle cx="496.9" cy="284.3" r="0.75" fill="#111"/>
<circle cx="499.4" cy="284.8" r="0.75" fill="#111"/>
<circle cx="501.9" cy="284.3" r="0.75" fill="#111"/>
<line x1="329.6" y1="288.6" x2="512.3" y2="288.6" stroke="#231f20" stroke-width="1.1"/>
<line x1="350.2" y1="288.6" x2="350.2" y2="291.4" stroke="#231f20" stroke-width="1"/>
<line x1="397.5" y1="288.6" x2="397.5" y2="291.4" stroke="#231f20" stroke-width="1"/>
<line x1="444.4" y1="288.6" x2="444.4" y2="291.4" stroke="#231f20" stroke-width="1"/>
<line x1="490.6" y1="288.6" x2="490.6" y2="291.4" stroke="#231f20" stroke-width="1"/>
<line x1="453" y1="220.6" x2="499.8" y2="220.6" stroke="#2a2a2a" stroke-width="1.2"/>
<circle cx="485.02" cy="218.1" r="1.08" fill="#222"/>
<circle cx="488.68" cy="218.1" r="1.08" fill="#222"/>
<circle cx="492.32" cy="218.1" r="1.08" fill="#222"/>
<circle cx="495.98" cy="218.1" r="1.08" fill="#222"/>
<line x1="406.2" y1="227" x2="499.8" y2="227" stroke="#2a2a2a" stroke-width="1.2"/>
<circle cx="467.52" cy="224.5" r="1.08" fill="#222"/>
<circle cx="471.18" cy="224.5" r="1.08" fill="#222"/>
<circle cx="474.82" cy="224.5" r="1.08" fill="#222"/>
<circle cx="478.48" cy="224.5" r="1.08" fill="#222"/>
<line x1="359.5" y1="233.3" x2="499.8" y2="233.3" stroke="#2a2a2a" stroke-width="1.2"/>
<circle cx="448.02" cy="230.8" r="1.08" fill="#222"/>
<circle cx="451.68" cy="230.8" r="1.08" fill="#222"/>
<circle cx="455.32" cy="230.8" r="1.08" fill="#222"/>
<circle cx="458.98" cy="230.8" r="1.08" fill="#222"/>
<line x1="389" y1="239.5" x2="482" y2="239.5" stroke="#2a2a2a" stroke-width="1.2"/>
<circle cx="429.48" cy="237" r="1.08" fill="#222"/>
<circle cx="433.12" cy="237" r="1.08" fill="#222"/>
<line x1="342" y1="245.8" x2="482" y2="245.8" stroke="#2a2a2a" stroke-width="1.2"/>
<circle cx="377.5" cy="243.3" r="1.08" fill="#222"/>
<text x="343.7" y="302" font-size="8.5" textLength="13.8" lengthAdjust="spacingAndGlyphs">PBS</text>
<text x="378.7" y="302" font-size="8.5" textLength="37.1" lengthAdjust="spacingAndGlyphs">Anti-Duffy</text>
<text x="381.9" y="311.6" font-size="8.5" textLength="30.8" lengthAdjust="spacingAndGlyphs">MIMA29</text>
<text x="436.9" y="302" font-size="8.5" textLength="14.5" lengthAdjust="spacingAndGlyphs">PBS</text>
<text x="472.3" y="302" font-size="8.5" textLength="37.1" lengthAdjust="spacingAndGlyphs">Anti-Duffy</text>
<text x="475.5" y="311.6" font-size="8.5" textLength="31.2" lengthAdjust="spacingAndGlyphs">MIMA29</text>
<line x1="332.5" y1="315.7" x2="423.7" y2="315.7" stroke="#231f20" stroke-width="0.8"/>
<line x1="332.5" y1="314.2" x2="332.5" y2="317.2" stroke="#231f20" stroke-width="0.9"/>
<line x1="423.7" y1="314.2" x2="423.7" y2="317.2" stroke="#231f20" stroke-width="0.9"/>
<line x1="426.2" y1="315.7" x2="513.2" y2="315.7" stroke="#231f20" stroke-width="0.8"/>
<line x1="426.2" y1="314.2" x2="426.2" y2="317.2" stroke="#231f20" stroke-width="0.9"/>
<line x1="513.2" y1="314.2" x2="513.2" y2="317.2" stroke="#231f20" stroke-width="0.9"/>
<text x="338.3" y="327.2" font-size="8.5" textLength="79.9" lengthAdjust="spacingAndGlyphs">Without macrophages</text>
<text x="435.8" y="327.2" font-size="8.5" textLength="68.7" lengthAdjust="spacingAndGlyphs">With macrophages</text>
<line x1="72.3" y1="374.1" x2="72.3" y2="450.9" stroke="#231f20" stroke-width="1.1"/>
<line x1="69.7" y1="436.1" x2="72.3" y2="436.1" stroke="#231f20" stroke-width="0.9"/>
<text x="66" y="439.1" font-size="8.7" text-anchor="end" textLength="21.75" lengthAdjust="spacingAndGlyphs">12500</text>
<line x1="69.7" y1="410.1" x2="72.3" y2="410.1" stroke="#231f20" stroke-width="0.9"/>
<text x="66" y="413.1" font-size="8.7" text-anchor="end" textLength="21.75" lengthAdjust="spacingAndGlyphs">15000</text>
<line x1="69.7" y1="384.2" x2="72.3" y2="384.2" stroke="#231f20" stroke-width="0.9"/>
<text x="66" y="387.2" font-size="8.7" text-anchor="end" textLength="21.75" lengthAdjust="spacingAndGlyphs">17500</text>
<text x="25.4" y="413.3" font-size="9.2" text-anchor="middle" textLength="13.2" lengthAdjust="spacingAndGlyphs" transform="rotate(-90 25.4 413.3)">MFI</text>
<text x="37.3" y="412.6" font-size="9.2" text-anchor="middle" textLength="68.6" lengthAdjust="spacingAndGlyphs" transform="rotate(-90 37.3 412.6)">(PKH67<tspan font-size="5.5" dy="-3.2">+</tspan><tspan dy="3.2"> HOD-RBC)</tspan></text>
<rect x="75.9" y="379.2" width="6.8" height="4.6" fill="#38a936"/>
<text x="85.7" y="384.2" font-size="8.5" textLength="24.6" lengthAdjust="spacingAndGlyphs">30 min</text>
<rect x="117.1" y="379.2" width="6.8" height="4.6" fill="#f29106"/>
<text x="126.5" y="384.2" font-size="8.5" textLength="11.2" lengthAdjust="spacingAndGlyphs">3 h</text>
<rect x="79.2" y="411.3" width="10.6" height="39.6" fill="#38a936"/>
<line x1="84.5" y1="407.2" x2="84.5" y2="413.3" stroke="#231f20" stroke-width="0.9"/>
<line x1="81.7" y1="407.2" x2="87.3" y2="407.2" stroke="#231f20" stroke-width="0.9"/>
<circle cx="84" cy="397.4" r="0.75" fill="#111"/>
<circle cx="84" cy="404.7" r="0.75" fill="#111"/>
<circle cx="79.9" cy="415.8" r="0.75" fill="#111"/>
<circle cx="82.4" cy="415.8" r="0.75" fill="#111"/>
<circle cx="85.1" cy="415.8" r="0.75" fill="#111"/>
<circle cx="87.7" cy="415.8" r="0.75" fill="#111"/>
<rect x="96.1" y="418.1" width="10.7" height="32.8" fill="#f29106"/>
<line x1="101.45" y1="416.1" x2="101.45" y2="420.1" stroke="#231f20" stroke-width="0.9"/>
<line x1="98.65" y1="416.1" x2="104.25" y2="416.1" stroke="#231f20" stroke-width="0.9"/>
<circle cx="101.5" cy="410.9" r="0.75" fill="#111"/>
<circle cx="101.5" cy="412.9" r="0.75" fill="#111"/>
<circle cx="100.85" cy="417" r="0.75" fill="#111"/>
<circle cx="101.5" cy="422.7" r="0.75" fill="#111"/>
<circle cx="101.5" cy="427.6" r="0.75" fill="#111"/>
<rect x="125.9" y="412" width="10.7" height="38.9" fill="#38a936"/>
<line x1="131.25" y1="407.2" x2="131.25" y2="414" stroke="#231f20" stroke-width="0.9"/>
<line x1="128.45" y1="407.2" x2="134.05" y2="407.2" stroke="#231f20" stroke-width="0.9"/>
<circle cx="130.95" cy="397.4" r="0.75" fill="#111"/>
<circle cx="130.95" cy="399.8" r="0.75" fill="#111"/>
<circle cx="128.95" cy="416.1" r="0.75" fill="#111"/>
<circle cx="131.45" cy="416.1" r="0.75" fill="#111"/>
<circle cx="133.55" cy="416.1" r="0.75" fill="#111"/>
<circle cx="131.45" cy="421" r="0.75" fill="#111"/>
<rect x="143.4" y="413.7" width="10.8" height="37.2" fill="#f29106"/>
<line x1="148.8" y1="410.4" x2="148.8" y2="415.7" stroke="#231f20" stroke-width="0.9"/>
<line x1="146" y1="410.4" x2="151.6" y2="410.4" stroke="#231f20" stroke-width="0.9"/>
<circle cx="148.5" cy="401.8" r="0.75" fill="#111"/>
<circle cx="148.5" cy="406.3" r="0.75" fill="#111"/>
<circle cx="146.9" cy="415.3" r="0.75" fill="#111"/>
<circle cx="149.8" cy="415.3" r="0.75" fill="#111"/>
<circle cx="148.5" cy="418.6" r="0.75" fill="#111"/>
<circle cx="148.5" cy="421.9" r="0.75" fill="#111"/>
<rect x="172.6" y="418.9" width="10.7" height="32" fill="#38a936"/>
<line x1="177.95" y1="416.1" x2="177.95" y2="420.9" stroke="#231f20" stroke-width="0.9"/>
<line x1="175.15" y1="416.1" x2="180.75" y2="416.1" stroke="#231f20" stroke-width="0.9"/>
<circle cx="177.45" cy="410.2" r="0.75" fill="#111"/>
<circle cx="177.45" cy="412.3" r="0.75" fill="#111"/>
<circle cx="177.45" cy="417.5" r="0.75" fill="#111"/>
<circle cx="177.45" cy="422.7" r="0.75" fill="#111"/>
<circle cx="177.45" cy="426.5" r="0.75" fill="#111"/>
<rect x="190.3" y="422.3" width="10.8" height="28.6" fill="#f29106"/>
<line x1="195.7" y1="420" x2="195.7" y2="424.3" stroke="#231f20" stroke-width="0.9"/>
<line x1="192.9" y1="420" x2="198.5" y2="420" stroke="#231f20" stroke-width="0.9"/>
<circle cx="195.3" cy="419.2" r="0.75" fill="#111"/>
<circle cx="195.8" cy="424.8" r="0.75" fill="#111"/>
<circle cx="195.8" cy="429.3" r="0.75" fill="#111"/>
<rect x="219.5" y="421.8" width="10.7" height="29.1" fill="#38a936"/>
<line x1="224.85" y1="419.2" x2="224.85" y2="423.8" stroke="#231f20" stroke-width="0.9"/>
<line x1="222.05" y1="419.2" x2="227.65" y2="419.2" stroke="#231f20" stroke-width="0.9"/>
<circle cx="222.05" cy="415.4" r="0.75" fill="#111"/>
<circle cx="225.15" cy="416.6" r="0.75" fill="#111"/>
<circle cx="222.05" cy="422.3" r="0.75" fill="#111"/>
<circle cx="224.65" cy="422.3" r="0.75" fill="#111"/>
<circle cx="227.65" cy="422.3" r="0.75" fill="#111"/>
<rect x="237" y="426.7" width="10.7" height="24.2" fill="#f29106"/>
<line x1="242.35" y1="424" x2="242.35" y2="428.7" stroke="#231f20" stroke-width="0.9"/>
<line x1="239.55" y1="424" x2="245.15" y2="424" stroke="#231f20" stroke-width="0.9"/>
<circle cx="242.05" cy="421.3" r="0.75" fill="#111"/>
<circle cx="238.05" cy="427.5" r="0.75" fill="#111"/>
<circle cx="240.35" cy="427.5" r="0.75" fill="#111"/>
<circle cx="242.55" cy="427.5" r="0.75" fill="#111"/>
<circle cx="244.95" cy="427.5" r="0.75" fill="#111"/>
<line x1="72.3" y1="450.9" x2="254.5" y2="450.9" stroke="#231f20" stroke-width="1.1"/>
<line x1="93" y1="450.9" x2="93" y2="453.7" stroke="#231f20" stroke-width="1"/>
<line x1="139.8" y1="450.9" x2="139.8" y2="453.7" stroke="#231f20" stroke-width="1"/>
<line x1="186.5" y1="450.9" x2="186.5" y2="453.7" stroke="#231f20" stroke-width="1"/>
<line x1="233.7" y1="450.9" x2="233.7" y2="453.7" stroke="#231f20" stroke-width="1"/>
<line x1="148.4" y1="398.3" x2="242.3" y2="398.3" stroke="#2a2a2a" stroke-width="1.2"/>
<circle cx="195" cy="395.8" r="1.08" fill="#222"/>
<text x="85.8" y="464.5" font-size="8.5" textLength="14" lengthAdjust="spacingAndGlyphs">PBS</text>
<text x="131" y="464.5" font-size="8.5" textLength="16.6" lengthAdjust="spacingAndGlyphs">pIgG</text>
<text x="124.2" y="474.4" font-size="8.5" textLength="30" lengthAdjust="spacingAndGlyphs">anti-HEL</text>
<text x="179.5" y="464.5" font-size="8.5" textLength="14" lengthAdjust="spacingAndGlyphs">PBS</text>
<text x="224.8" y="464.5" font-size="8.5" textLength="16.6" lengthAdjust="spacingAndGlyphs">pIgG</text>
<text x="218.2" y="474.4" font-size="8.5" textLength="30" lengthAdjust="spacingAndGlyphs">anti-HEL</text>
<line x1="74.6" y1="478.5" x2="163" y2="478.5" stroke="#231f20" stroke-width="0.8"/>
<line x1="74.6" y1="477" x2="74.6" y2="480" stroke="#231f20" stroke-width="0.9"/>
<line x1="163" y1="477" x2="163" y2="480" stroke="#231f20" stroke-width="0.9"/>
<line x1="165.8" y1="478.5" x2="254.3" y2="478.5" stroke="#231f20" stroke-width="0.8"/>
<line x1="165.8" y1="477" x2="165.8" y2="480" stroke="#231f20" stroke-width="0.9"/>
<line x1="254.3" y1="477" x2="254.3" y2="480" stroke="#231f20" stroke-width="0.9"/>
<text x="81.2" y="489.8" font-size="8.5" textLength="76.1" lengthAdjust="spacingAndGlyphs">Without macrophage</text>
<text x="179.2" y="489.8" font-size="8.5" textLength="65.4" lengthAdjust="spacingAndGlyphs">With macrophage</text>
<line x1="329.4" y1="374.3" x2="329.4" y2="450.9" stroke="#231f20" stroke-width="1.1"/>
<line x1="326.8" y1="436" x2="329.4" y2="436" stroke="#231f20" stroke-width="0.9"/>
<text x="323" y="439" font-size="8.7" text-anchor="end" textLength="17.4" lengthAdjust="spacingAndGlyphs">7500</text>
<line x1="326.8" y1="410.2" x2="329.4" y2="410.2" stroke="#231f20" stroke-width="0.9"/>
<text x="323" y="413.2" font-size="8.7" text-anchor="end" textLength="21.75" lengthAdjust="spacingAndGlyphs">10000</text>
<line x1="326.8" y1="384.3" x2="329.4" y2="384.3" stroke="#231f20" stroke-width="0.9"/>
<text x="323" y="387.3" font-size="8.7" text-anchor="end" textLength="21.75" lengthAdjust="spacingAndGlyphs">12500</text>
<text x="283" y="413" font-size="9.2" text-anchor="middle" textLength="13.2" lengthAdjust="spacingAndGlyphs" transform="rotate(-90 283 413)">MFI</text>
<text x="295.1" y="412.6" font-size="9.2" text-anchor="middle" textLength="68.6" lengthAdjust="spacingAndGlyphs" transform="rotate(-90 295.1 412.6)">(PKH67<tspan font-size="5.5" dy="-3.2">+</tspan><tspan dy="3.2"> HOD-RBC)</tspan></text>
<rect x="333.1" y="379.2" width="6.8" height="4.6" fill="#38a936"/>
<text x="342.9" y="384.2" font-size="8.5" textLength="24.6" lengthAdjust="spacingAndGlyphs">30 min</text>
<rect x="374.3" y="379.2" width="6.8" height="4.6" fill="#f29106"/>
<text x="383.7" y="384.2" font-size="8.5" textLength="11.2" lengthAdjust="spacingAndGlyphs">3 h</text>
<rect x="335.9" y="415.4" width="10.8" height="35.5" fill="#38a936"/>
<line x1="341.3" y1="409.7" x2="341.3" y2="417.4" stroke="#231f20" stroke-width="0.9"/>
<line x1="338.5" y1="409.7" x2="344.1" y2="409.7" stroke="#231f20" stroke-width="0.9"/>
<circle cx="341.2" cy="405" r="0.75" fill="#111"/>
<circle cx="341.2" cy="408.8" r="0.75" fill="#111"/>
<circle cx="341.2" cy="421.8" r="0.75" fill="#111"/>
<circle cx="341.2" cy="423.2" r="0.75" fill="#111"/>
<rect x="353.4" y="412" width="11.1" height="38.9" fill="#f29106"/>
<line x1="358.95" y1="408.5" x2="358.95" y2="414" stroke="#231f20" stroke-width="0.9"/>
<line x1="356.15" y1="408.5" x2="361.75" y2="408.5" stroke="#231f20" stroke-width="0.9"/>
<circle cx="359.15" cy="402.8" r="0.75" fill="#111"/>
<circle cx="357.75" cy="416.6" r="0.75" fill="#111"/>
<circle cx="360.25" cy="415.8" r="0.75" fill="#111"/>
<rect x="382.5" y="413.7" width="11.3" height="37.2" fill="#38a936"/>
<line x1="388.15" y1="411.4" x2="388.15" y2="415.7" stroke="#231f20" stroke-width="0.9"/>
<line x1="385.35" y1="411.4" x2="390.95" y2="411.4" stroke="#231f20" stroke-width="0.9"/>
<circle cx="387.95" cy="406.8" r="0.75" fill="#111"/>
<circle cx="386.65" cy="414" r="0.75" fill="#111"/>
<circle cx="389.25" cy="414" r="0.75" fill="#111"/>
<circle cx="387.95" cy="416.6" r="0.75" fill="#111"/>
<rect x="400.1" y="412.3" width="11.2" height="38.6" fill="#f29106"/>
<line x1="405.7" y1="408.8" x2="405.7" y2="414.3" stroke="#231f20" stroke-width="0.9"/>
<line x1="402.9" y1="408.8" x2="408.5" y2="408.8" stroke="#231f20" stroke-width="0.9"/>
<circle cx="405.3" cy="404.5" r="0.75" fill="#111"/>
<circle cx="404.4" cy="408" r="0.75" fill="#111"/>
<circle cx="406.1" cy="408" r="0.75" fill="#111"/>
<circle cx="404.4" cy="418.4" r="0.75" fill="#111"/>
<circle cx="407" cy="417.5" r="0.75" fill="#111"/>
<rect x="430" y="421" width="10.6" height="29.9" fill="#38a936"/>
<line x1="435.3" y1="415.5" x2="435.3" y2="423" stroke="#231f20" stroke-width="0.9"/>
<line x1="432.5" y1="415.5" x2="438.1" y2="415.5" stroke="#231f20" stroke-width="0.9"/>
<circle cx="435.1" cy="413.9" r="0.75" fill="#111"/>
<circle cx="435.1" cy="416.3" r="0.75" fill="#111"/>
<circle cx="435.1" cy="424.5" r="0.75" fill="#111"/>
<circle cx="435.1" cy="427.8" r="0.75" fill="#111"/>
<rect x="447.5" y="423" width="10.7" height="27.9" fill="#f29106"/>
<line x1="452.85" y1="417.2" x2="452.85" y2="425" stroke="#231f20" stroke-width="0.9"/>
<line x1="450.05" y1="417.2" x2="455.65" y2="417.2" stroke="#231f20" stroke-width="0.9"/>
<circle cx="452.55" cy="411.8" r="0.75" fill="#111"/>
<circle cx="452.55" cy="424.5" r="0.75" fill="#111"/>
<circle cx="452.55" cy="429.4" r="0.75" fill="#111"/>
<circle cx="452.55" cy="433.5" r="0.75" fill="#111"/>
<rect x="476.8" y="423" width="10.4" height="27.9" fill="#38a936"/>
<line x1="482" y1="418.5" x2="482" y2="425" stroke="#231f20" stroke-width="0.9"/>
<line x1="479.2" y1="418.5" x2="484.8" y2="418.5" stroke="#231f20" stroke-width="0.9"/>
<circle cx="481.4" cy="411.8" r="0.75" fill="#111"/>
<circle cx="483.5" cy="411.1" r="0.75" fill="#111"/>
<circle cx="478.9" cy="430.2" r="0.75" fill="#111"/>
<circle cx="481" cy="430.2" r="0.75" fill="#111"/>
<circle cx="483.2" cy="430.2" r="0.75" fill="#111"/>
<circle cx="485.5" cy="430.2" r="0.75" fill="#111"/>
<rect x="494.1" y="430.8" width="10.7" height="20.1" fill="#f29106"/>
<line x1="499.45" y1="425.8" x2="499.45" y2="432.8" stroke="#231f20" stroke-width="0.9"/>
<line x1="496.65" y1="425.8" x2="502.25" y2="425.8" stroke="#231f20" stroke-width="0.9"/>
<circle cx="499.25" cy="417.2" r="0.75" fill="#111"/>
<circle cx="499.25" cy="436.8" r="0.75" fill="#111"/>
<circle cx="499.25" cy="439.2" r="0.75" fill="#111"/>
<circle cx="499.25" cy="443.8" r="0.75" fill="#111"/>
<line x1="329.6" y1="450.9" x2="512.5" y2="450.9" stroke="#231f20" stroke-width="1.1"/>
<line x1="350.2" y1="450.9" x2="350.2" y2="453.7" stroke="#231f20" stroke-width="1"/>
<line x1="397.5" y1="450.9" x2="397.5" y2="453.7" stroke="#231f20" stroke-width="1"/>
<line x1="444.4" y1="450.9" x2="444.4" y2="453.7" stroke="#231f20" stroke-width="1"/>
<line x1="490.6" y1="450.9" x2="490.6" y2="453.7" stroke="#231f20" stroke-width="1"/>
<line x1="406.3" y1="400.7" x2="500.5" y2="400.7" stroke="#2a2a2a" stroke-width="1.2"/>
<circle cx="450.48" cy="398.2" r="1.08" fill="#222"/>
<circle cx="454.12" cy="398.2" r="1.08" fill="#222"/>
<text x="343" y="464.5" font-size="8.5" textLength="14.3" lengthAdjust="spacingAndGlyphs">PBS</text>
<text x="379.6" y="464.5" font-size="8.5" textLength="36.4" lengthAdjust="spacingAndGlyphs">Anti-Duffy</text>
<text x="381.5" y="474.4" font-size="8.5" textLength="32.7" lengthAdjust="spacingAndGlyphs">MIMA29</text>
<text x="436" y="464.5" font-size="8.5" textLength="14.8" lengthAdjust="spacingAndGlyphs">PBS</text>
<text x="472.7" y="464.5" font-size="8.5" textLength="36.5" lengthAdjust="spacingAndGlyphs">Anti-Duffy</text>
<text x="475.5" y="474.4" font-size="8.5" textLength="31.2" lengthAdjust="spacingAndGlyphs">MIMA29</text>
<line x1="332.3" y1="478.5" x2="420.8" y2="478.5" stroke="#231f20" stroke-width="0.8"/>
<line x1="332.3" y1="477" x2="332.3" y2="480" stroke="#231f20" stroke-width="0.9"/>
<line x1="420.8" y1="477" x2="420.8" y2="480" stroke="#231f20" stroke-width="0.9"/>
<line x1="423" y1="478.5" x2="512.3" y2="478.5" stroke="#231f20" stroke-width="0.8"/>
<line x1="423" y1="477" x2="423" y2="480" stroke="#231f20" stroke-width="0.9"/>
<line x1="512.3" y1="477" x2="512.3" y2="480" stroke="#231f20" stroke-width="0.9"/>
<text x="336" y="489.8" font-size="8.5" textLength="81" lengthAdjust="spacingAndGlyphs">Without macrophages</text>
<text x="434.6" y="489.8" font-size="8.5" textLength="69.2" lengthAdjust="spacingAndGlyphs">With macrophages</text>
<line x1="188.4" y1="538.5" x2="188.4" y2="576" stroke="#231f20" stroke-width="1.1"/>
<line x1="188.4" y1="584.5" x2="188.4" y2="622.8" stroke="#231f20" stroke-width="1.1"/>
<line x1="185.1" y1="540.8" x2="188.4" y2="540.8" stroke="#231f20" stroke-width="0.9"/>
<text x="182.2" y="543.8" font-size="8.6" text-anchor="end" textLength="17.9" lengthAdjust="spacingAndGlyphs">4000</text>
<line x1="185.1" y1="558.5" x2="188.4" y2="558.5" stroke="#231f20" stroke-width="0.9"/>
<text x="182.2" y="561.5" font-size="8.6" text-anchor="end" textLength="17.9" lengthAdjust="spacingAndGlyphs">3000</text>
<line x1="185.1" y1="576" x2="188.4" y2="576" stroke="#231f20" stroke-width="0.9"/>
<text x="182.2" y="579" font-size="8.6" text-anchor="end" textLength="17.9" lengthAdjust="spacingAndGlyphs">2000</text>
<line x1="185.1" y1="585" x2="188.4" y2="585" stroke="#231f20" stroke-width="0.9"/>
<text x="182.2" y="588" font-size="8.6" text-anchor="end" textLength="17.92" lengthAdjust="spacingAndGlyphs">1500</text>
<line x1="185.1" y1="597.8" x2="188.4" y2="597.8" stroke="#231f20" stroke-width="0.9"/>
<text x="182.2" y="600.8" font-size="8.6" text-anchor="end" textLength="17.92" lengthAdjust="spacingAndGlyphs">1000</text>
<line x1="185.1" y1="610.3" x2="188.4" y2="610.3" stroke="#231f20" stroke-width="0.9"/>
<text x="182.2" y="613.3" font-size="8.6" text-anchor="end" textLength="13.44" lengthAdjust="spacingAndGlyphs">500</text>
<line x1="185.1" y1="622.7" x2="188.4" y2="622.7" stroke="#231f20" stroke-width="0.9"/>
<text x="182.2" y="625.7" font-size="8.6" text-anchor="end" textLength="4.48" lengthAdjust="spacingAndGlyphs">0</text>
<rect x="189.2" y="548.5" width="204.2" height="14.9" fill="#c6c4c8"/>
<text x="147" y="580.8" font-size="10" text-anchor="middle" textLength="45.5" lengthAdjust="spacingAndGlyphs" transform="rotate(-90 147 580.8)">MFI (PKH67<tspan font-size="5.8" dy="-3.4">+</tspan></text>
<text x="157.7" y="580.7" font-size="10" text-anchor="middle" textLength="67.4" lengthAdjust="spacingAndGlyphs" transform="rotate(-90 157.7 580.7)">RAW macrophages)</text>
<rect x="196.6" y="541.3" width="5.8" height="3.9" fill="#38a936"/>
<text x="205.8" y="545.4" font-size="8.4" textLength="24.4" lengthAdjust="spacingAndGlyphs">30 min</text>
<rect x="237.2" y="541.3" width="6.6" height="3.9" fill="#f29106"/>
<text x="247.1" y="545.4" font-size="8.4" textLength="10" lengthAdjust="spacingAndGlyphs">3 h</text>
<rect x="197.3" y="616.6" width="17.7" height="6.2" fill="#38a936"/>
<line x1="206.15" y1="615.8" x2="206.15" y2="618.6" stroke="#231f20" stroke-width="0.9"/>
<line x1="203.35" y1="615.8" x2="208.95" y2="615.8" stroke="#231f20" stroke-width="0.9"/>
<circle cx="199.65" cy="616.6" r="0.75" fill="#111"/>
<circle cx="201.85" cy="616.3" r="0.75" fill="#111"/>
<circle cx="203.95" cy="616.7" r="0.75" fill="#111"/>
<circle cx="206.15" cy="616.2" r="0.75" fill="#111"/>
<circle cx="208.35" cy="616.6" r="0.75" fill="#111"/>
<circle cx="210.55" cy="616.1" r="0.75" fill="#111"/>
<circle cx="212.75" cy="616.5" r="0.75" fill="#111"/>
<circle cx="200.75" cy="617.5" r="0.75" fill="#111"/>
<circle cx="207.15" cy="617.4" r="0.75" fill="#111"/>
<circle cx="211.65" cy="617.5" r="0.75" fill="#111"/>
<rect x="224.3" y="615.2" width="17.1" height="7.6" fill="#f29106"/>
<line x1="232.85" y1="613.8" x2="232.85" y2="617.2" stroke="#231f20" stroke-width="0.9"/>
<line x1="230.05" y1="613.8" x2="235.65" y2="613.8" stroke="#231f20" stroke-width="0.9"/>
<circle cx="226.05" cy="614.3" r="0.75" fill="#111"/>
<circle cx="228.35" cy="614.6" r="0.75" fill="#111"/>
<circle cx="230.65" cy="614.1" r="0.75" fill="#111"/>
<circle cx="232.85" cy="614.7" r="0.75" fill="#111"/>
<circle cx="235.15" cy="614.2" r="0.75" fill="#111"/>
<circle cx="237.45" cy="614.5" r="0.75" fill="#111"/>
<circle cx="239.65" cy="614.1" r="0.75" fill="#111"/>
<circle cx="229.35" cy="615.6" r="0.75" fill="#111"/>
<circle cx="236.35" cy="615.5" r="0.75" fill="#111"/>
<rect x="269.3" y="609.5" width="16.3" height="13.3" fill="#38a936"/>
<line x1="277.45" y1="607.5" x2="277.45" y2="611.5" stroke="#231f20" stroke-width="0.9"/>
<line x1="274.65" y1="607.5" x2="280.25" y2="607.5" stroke="#231f20" stroke-width="0.9"/>
<circle cx="276.15" cy="603.8" r="0.75" fill="#111"/>
<circle cx="278.75" cy="604.5" r="0.75" fill="#111"/>
<circle cx="271.25" cy="611.2" r="0.75" fill="#111"/>
<circle cx="273.85" cy="611.2" r="0.75" fill="#111"/>
<circle cx="276.45" cy="611.2" r="0.75" fill="#111"/>
<circle cx="279.05" cy="611.2" r="0.75" fill="#111"/>
<circle cx="281.65" cy="611.2" r="0.75" fill="#111"/>
<rect x="295.5" y="605.6" width="17" height="17.2" fill="#f29106"/>
<line x1="304" y1="604.5" x2="304" y2="607.6" stroke="#231f20" stroke-width="0.9"/>
<line x1="301.2" y1="604.5" x2="306.8" y2="604.5" stroke="#231f20" stroke-width="0.9"/>
<circle cx="302.5" cy="600" r="0.75" fill="#111"/>
<circle cx="305.5" cy="599.5" r="0.75" fill="#111"/>
<circle cx="297.2" cy="607" r="0.75" fill="#111"/>
<circle cx="299.8" cy="607" r="0.75" fill="#111"/>
<circle cx="302.4" cy="607" r="0.75" fill="#111"/>
<circle cx="305" cy="607" r="0.75" fill="#111"/>
<circle cx="307.6" cy="607" r="0.75" fill="#111"/>
<circle cx="310.2" cy="607" r="0.75" fill="#111"/>
<rect x="340.1" y="602.7" width="16.6" height="20.1" fill="#38a936"/>
<line x1="348.4" y1="599.4" x2="348.4" y2="604.7" stroke="#231f20" stroke-width="0.9"/>
<line x1="345.6" y1="599.4" x2="351.2" y2="599.4" stroke="#231f20" stroke-width="0.9"/>
<circle cx="344.6" cy="596.9" r="0.75" fill="#111"/>
<circle cx="348.1" cy="596.5" r="0.75" fill="#111"/>
<circle cx="351.5" cy="596.2" r="0.75" fill="#111"/>
<circle cx="347.1" cy="598.5" r="0.75" fill="#111"/>
<circle cx="349.6" cy="599.4" r="0.75" fill="#111"/>
<circle cx="346.2" cy="607.7" r="0.75" fill="#111"/>
<circle cx="349.6" cy="607.7" r="0.75" fill="#111"/>
<circle cx="348.1" cy="609.6" r="0.75" fill="#111"/>
<rect x="366.7" y="609.8" width="17" height="13" fill="#f29106"/>
<line x1="375.2" y1="609.2" x2="375.2" y2="611.8" stroke="#231f20" stroke-width="0.9"/>
<line x1="372.4" y1="609.2" x2="378" y2="609.2" stroke="#231f20" stroke-width="0.9"/>
<circle cx="368.3" cy="609.9" r="0.75" fill="#111"/>
<circle cx="371.2" cy="609.6" r="0.75" fill="#111"/>
<circle cx="374" cy="609.8" r="0.75" fill="#111"/>
<circle cx="376.9" cy="609.6" r="0.75" fill="#111"/>
<circle cx="379.8" cy="609.7" r="0.75" fill="#111"/>
<circle cx="381.7" cy="608.6" r="0.75" fill="#111"/>
<line x1="190" y1="617.3" x2="393.7" y2="617.3" stroke="#111" stroke-width="0.8" stroke-dasharray="1.2 1.3"/>
<line x1="188.4" y1="622.8" x2="393.5" y2="622.8" stroke="#231f20" stroke-width="1.1"/>
<line x1="219.2" y1="622.8" x2="219.2" y2="625.2" stroke="#231f20" stroke-width="0.9"/>
<line x1="290.4" y1="622.8" x2="290.4" y2="625.2" stroke="#231f20" stroke-width="0.9"/>
<line x1="360.9" y1="622.8" x2="360.9" y2="625.2" stroke="#231f20" stroke-width="0.9"/>
<line x1="233.4" y1="574.7" x2="375.2" y2="574.7" stroke="#2a2a2a" stroke-width="1.2"/>
<circle cx="341.32" cy="572.2" r="1.08" fill="#222"/>
<circle cx="344.98" cy="572.2" r="1.08" fill="#222"/>
<circle cx="348.62" cy="572.2" r="1.08" fill="#222"/>
<circle cx="352.28" cy="572.2" r="1.08" fill="#222"/>
<line x1="206.5" y1="583" x2="348.3" y2="583" stroke="#2a2a2a" stroke-width="1.2"/>
<circle cx="314.92" cy="580.5" r="1.08" fill="#222"/>
<circle cx="318.57" cy="580.5" r="1.08" fill="#222"/>
<circle cx="322.22" cy="580.5" r="1.08" fill="#222"/>
<circle cx="325.88" cy="580.5" r="1.08" fill="#222"/>
<line x1="233.4" y1="590.8" x2="304" y2="590.8" stroke="#2a2a2a" stroke-width="1.2"/>
<circle cx="270.32" cy="588.3" r="1.08" fill="#222"/>
<circle cx="273.98" cy="588.3" r="1.08" fill="#222"/>
<circle cx="277.62" cy="588.3" r="1.08" fill="#222"/>
<circle cx="281.28" cy="588.3" r="1.08" fill="#222"/>
<line x1="206.5" y1="598.2" x2="277.3" y2="598.2" stroke="#2a2a2a" stroke-width="1.2"/>
<circle cx="240.22" cy="595.7" r="1.08" fill="#222"/>
<circle cx="243.88" cy="595.7" r="1.08" fill="#222"/>
<circle cx="247.52" cy="595.7" r="1.08" fill="#222"/>
<circle cx="251.17" cy="595.7" r="1.08" fill="#222"/>
<text x="212.3" y="636.1" font-size="8.5" textLength="14" lengthAdjust="spacingAndGlyphs">PBS</text>
<text x="265" y="636.1" font-size="8.5" textLength="50.8" lengthAdjust="spacingAndGlyphs">pIgG anti-HEL</text>
<text x="326.4" y="636.1" font-size="8.5" textLength="67.8" lengthAdjust="spacingAndGlyphs">Anti-Duffy MIMA29</text>
<line x1="188" y1="642.6" x2="397.8" y2="642.6" stroke="#231f20" stroke-width="0.8"/>
<line x1="188" y1="641.1" x2="188" y2="644.1" stroke="#231f20" stroke-width="0.9"/>
<line x1="397.8" y1="641.1" x2="397.8" y2="644.1" stroke="#231f20" stroke-width="0.9"/>
<text x="250.4" y="653.5" font-size="8.5" textLength="88.2" lengthAdjust="spacingAndGlyphs">PKH67-HOD-RBC+Ab</text>
<rect x="0.5" y="0.5" width="519" height="662" fill="none" stroke="#585858" stroke-width="1"/>
</svg></body></html>
